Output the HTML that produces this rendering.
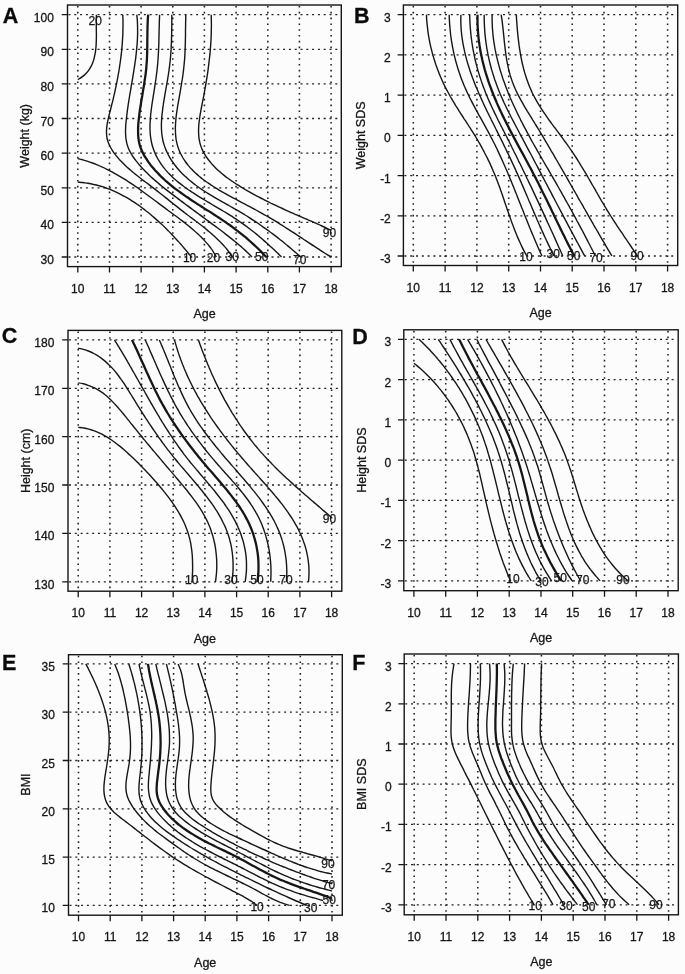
<!DOCTYPE html>
<html><head><meta charset="utf-8"><title>Figure</title>
<style>
html,body{margin:0;padding:0;background:#fcfcfc;}
svg{display:block;filter:grayscale(1);}
text{font-family:"Liberation Sans",sans-serif;fill:#161616;}
.tl{font-size:12px;stroke:#161616;stroke-width:0.3;}
.tt{font-size:12.5px;stroke:#161616;stroke-width:0.3;}
.cl{font-size:12px;stroke:#161616;stroke-width:0.25;}
.pl{font-size:21.5px;font-weight:bold;fill:#0a0a0a;stroke:#0a0a0a;stroke-width:0.3;}
.gridv{fill:none;stroke:#202020;stroke-width:1.55;stroke-dasharray:1.6 4.2;}
.gridh{fill:none;stroke:#202020;stroke-width:1.3;stroke-dasharray:2.0 3.8;}
.cv{fill:none;stroke:#161616;stroke-width:1.4;stroke-linejoin:round;}
.cvb{fill:none;stroke:#161616;stroke-width:2.3;stroke-linejoin:round;}
.fr{fill:none;stroke:#161616;stroke-width:1.4;}
.tk{fill:none;stroke:#161616;stroke-width:1.3;}
</style></head>
<body><svg width="685" height="974" viewBox="0 0 685 974">
<path class="gridv" d="M77.8 6V265.6M109.5 6V265.6M141.1 6V265.6M172.8 6V265.6M204.4 6V265.6M236.1 6V265.6M267.8 6V265.6M299.4 6V265.6M331.1 6V265.6"/>
<path class="gridh" d="M68.5 257H340.3M68.5 222.4H340.3M68.5 187.8H340.3M68.5 153.2H340.3M68.5 118.5H340.3M68.5 83.9H340.3M68.5 49.3H340.3M68.5 14.7H340.3"/>
<path class="cv" d="M96.4 14.7C96.4 15.5 96.3 17.9 96.3 19.6C96.3 21.2 96.3 22.9 96.3 24.6C96.3 26.3 96.3 28 96.3 29.8C96.4 31.5 96.4 33.3 96.4 35C96.4 36.8 96.4 38.6 96.3 40.3C96.3 42.1 96.2 43.8 96.1 45.5C96 47.3 95.8 49 95.6 50.7C95.4 52.4 95.1 54.1 94.7 55.7C94.4 57.3 94 58.9 93.5 60.5C92.9 62.1 92.4 63.6 91.7 65.1C91 66.5 90.2 67.9 89.3 69.3C88.4 70.7 87.4 72 86.2 73.2C85.1 74.4 83.8 75.6 82.4 76.6C81 77.7 78.6 79.1 77.8 79.6M77.8 182.1C78.6 182.2 81.2 182.3 82.9 182.5C84.5 182.7 86.2 183 87.9 183.2C89.5 183.5 91.1 183.8 92.8 184.2C94.4 184.5 96 184.9 97.6 185.3C99.2 185.8 100.8 186.2 102.4 186.7C103.9 187.2 105.5 187.8 107 188.3C108.6 188.9 110.1 189.5 111.7 190.1C113.2 190.8 114.7 191.5 116.2 192.2C117.7 192.9 119.2 193.6 120.6 194.3C122.1 195.1 123.6 195.9 125 196.7C126.5 197.5 127.9 198.3 129.3 199.2C130.7 200.1 132.2 201 133.6 201.9C135 202.8 136.3 203.7 137.7 204.7C139.1 205.6 140.5 206.6 141.8 207.6C143.2 208.6 144.5 209.6 145.8 210.7C147.1 211.7 148.4 212.7 149.8 213.8C151.1 214.9 152.3 216 153.6 217.1C154.9 218.2 156.2 219.3 157.4 220.4C158.7 221.5 159.9 222.7 161.1 223.8C162.4 225 163.6 226.1 164.8 227.3C166 228.5 167.2 229.7 168.4 230.9C169.5 232.1 170.7 233.3 171.9 234.5C173 235.7 174.2 236.9 175.3 238.2C176.4 239.4 177.6 240.6 178.7 241.9C179.8 243.1 180.9 244.4 182 245.6C183 246.9 184.1 248.1 185.2 249.4C186.2 250.7 187.3 251.9 188.3 253.2C189.4 254.5 190.9 256.4 191.4 257M77.8 158.6C78.6 158.8 81.2 159.4 82.8 159.8C84.5 160.3 86.1 160.8 87.8 161.3C89.4 161.8 91 162.4 92.6 163C94.2 163.5 95.7 164.2 97.3 164.8C98.9 165.5 100.4 166.2 101.9 166.9C103.5 167.6 105 168.3 106.5 169.1C108 169.8 109.5 170.6 111 171.4C112.5 172.2 113.9 173 115.4 173.8C116.9 174.6 118.3 175.5 119.8 176.3C121.2 177.2 122.6 178.1 124.1 178.9C125.5 179.8 126.9 180.7 128.3 181.7C129.7 182.6 131.1 183.5 132.5 184.4C133.9 185.4 135.3 186.3 136.7 187.3C138.1 188.3 139.5 189.3 140.8 190.2C142.2 191.2 143.6 192.2 145 193.2C146.3 194.2 147.7 195.2 149.1 196.2C150.4 197.2 151.8 198.3 153.2 199.3C154.5 200.3 155.9 201.3 157.3 202.3C158.6 203.3 160 204.4 161.4 205.4C162.7 206.4 164.1 207.4 165.5 208.4C166.9 209.4 168.2 210.5 169.6 211.5C171 212.5 172.4 213.5 173.7 214.5C175.1 215.5 176.5 216.5 177.8 217.5C179.2 218.6 180.5 219.6 181.9 220.6C183.2 221.6 184.6 222.7 185.9 223.7C187.2 224.8 188.5 225.8 189.8 226.9C191.1 228 192.4 229.1 193.7 230.2C195 231.3 196.2 232.4 197.4 233.5C198.7 234.7 199.9 235.8 201.1 237C202.2 238.2 203.4 239.4 204.5 240.6C205.7 241.9 206.8 243.1 207.9 244.4C208.9 245.7 210 247 211 248.4C212 249.7 212.9 251.1 213.8 252.6C214.7 254 215.9 256.3 216.3 257M122.8 14.7C122.8 15.5 122.9 18 123 19.7C123 21.4 123 23 123 24.7C123 26.4 123 28 122.9 29.7C122.9 31.4 122.9 33 122.8 34.7C122.7 36.3 122.6 38 122.5 39.7C122.4 41.3 122.3 43 122.2 44.6C122.1 46.3 121.9 47.9 121.8 49.6C121.6 51.3 121.4 52.9 121.2 54.6C121 56.2 120.8 57.9 120.6 59.5C120.4 61.2 120.2 62.8 119.9 64.5C119.7 66.1 119.4 67.8 119.2 69.4C118.9 71.1 118.6 72.7 118.3 74.4C118 76 117.7 77.7 117.4 79.3C117.1 81 116.8 82.6 116.4 84.3C116.1 85.9 115.8 87.6 115.4 89.2C115.1 90.9 114.7 92.5 114.3 94.2C113.9 95.8 113.5 97.5 113.2 99.1C112.8 100.8 112.4 102.4 111.9 104C111.5 105.7 111.1 107.3 110.7 109C110.3 110.6 109.8 112.3 109.4 113.9C109 115.6 108.6 117.2 108.2 118.8C107.9 120.5 107.5 122.1 107.2 123.7C107 125.3 106.8 126.9 106.6 128.5C106.5 130.1 106.5 131.7 106.5 133.3C106.6 134.9 106.7 136.4 107 138C107.3 139.5 107.8 141 108.3 142.5C108.9 144 109.5 145.5 110.3 147C111.1 148.4 111.9 149.8 112.9 151.3C113.8 152.7 114.8 154 115.9 155.4C117 156.7 118.1 158.1 119.3 159.4C120.5 160.6 121.7 161.9 122.9 163.1C124.1 164.3 125.4 165.5 126.6 166.7C127.9 167.8 129.1 168.9 130.4 170C131.6 171.1 132.9 172.2 134.2 173.2C135.4 174.3 136.7 175.3 138 176.3C139.2 177.3 140.5 178.3 141.8 179.3C143.1 180.2 144.4 181.2 145.7 182.2C147 183.2 148.3 184.1 149.6 185.1C150.9 186.1 152.2 187.1 153.5 188.1C154.8 189.1 156.1 190.1 157.4 191.1C158.7 192.1 160 193.2 161.4 194.2C162.7 195.2 164 196.3 165.3 197.4C166.7 198.4 168 199.5 169.3 200.6C170.6 201.6 172 202.7 173.3 203.8C174.6 204.8 176 205.9 177.3 206.9C178.6 208 180 209.1 181.3 210.1C182.6 211.1 184 212.2 185.3 213.2C186.6 214.2 188 215.2 189.3 216.2C190.6 217.3 192 218.3 193.3 219.3C194.6 220.3 196 221.3 197.3 222.3C198.6 223.3 199.9 224.3 201.2 225.3C202.5 226.3 203.8 227.3 205.1 228.3C206.3 229.4 207.6 230.4 208.9 231.5C210.1 232.5 211.4 233.6 212.6 234.7C213.8 235.8 215 236.9 216.2 238C217.4 239.1 218.6 240.3 219.8 241.4C220.9 242.6 222.1 243.8 223.2 245C224.3 246.3 225.4 247.5 226.5 248.8C227.5 250.1 228.6 251.4 229.6 252.8C230.6 254.2 232.1 256.3 232.6 257M136.8 14.7C136.9 15.5 137.1 18 137.3 19.6C137.4 21.3 137.5 22.9 137.5 24.6C137.6 26.3 137.6 27.9 137.6 29.6C137.6 31.2 137.6 32.9 137.6 34.6C137.5 36.2 137.5 37.9 137.4 39.6C137.3 41.2 137.2 42.9 137.1 44.6C136.9 46.2 136.8 47.9 136.6 49.6C136.5 51.2 136.3 52.9 136.1 54.6C135.9 56.2 135.7 57.9 135.5 59.6C135.2 61.3 135 62.9 134.8 64.6C134.5 66.3 134.3 68 134 69.6C133.8 71.3 133.5 73 133.2 74.6C132.9 76.3 132.7 78 132.4 79.7C132.1 81.3 131.8 83 131.5 84.7C131.2 86.3 131 88 130.7 89.7C130.4 91.4 130.1 93 129.8 94.7C129.6 96.3 129.3 98 129 99.7C128.8 101.3 128.5 103 128.2 104.7C128 106.3 127.8 108 127.5 109.6C127.3 111.3 127.1 112.9 126.9 114.6C126.7 116.2 126.5 117.9 126.3 119.5C126.1 121.2 126 122.8 125.8 124.4C125.7 126.1 125.6 127.7 125.6 129.3C125.5 130.9 125.5 132.5 125.6 134.1C125.7 135.7 125.8 137.3 126 138.9C126.3 140.5 126.5 142 126.9 143.6C127.3 145.1 127.8 146.7 128.4 148.2C129 149.7 129.8 151.2 130.6 152.6C131.4 154.1 132.3 155.5 133.2 157C134.2 158.4 135.2 159.8 136.3 161.1C137.4 162.5 138.5 163.8 139.6 165.2C140.8 166.5 142 167.7 143.1 169C144.3 170.2 145.5 171.5 146.7 172.6C147.9 173.8 149.1 175 150.3 176.2C151.5 177.3 152.8 178.4 154 179.5C155.2 180.6 156.5 181.7 157.8 182.8C159 183.9 160.3 184.9 161.6 186C162.9 187 164.1 188 165.4 189.1C166.7 190.1 168 191.1 169.4 192.1C170.7 193.1 172 194.1 173.3 195.1C174.6 196.1 176 197.1 177.3 198.1C178.6 199.1 180 200.1 181.3 201.1C182.6 202.1 184 203.1 185.3 204.1C186.7 205.1 188 206.1 189.4 207.1C190.7 208.1 192.1 209.1 193.4 210.1C194.8 211.1 196.2 212.1 197.5 213.1C198.9 214.1 200.2 215.1 201.6 216.1C202.9 217.1 204.3 218.1 205.6 219.1C207 220.1 208.3 221.1 209.7 222.1C211 223.1 212.3 224.1 213.7 225.1C215 226 216.4 227 217.7 228C219 229 220.3 230 221.7 231C223 232 224.3 233 225.6 234.1C226.9 235.1 228.2 236.1 229.5 237.1C230.8 238.1 232.1 239.2 233.4 240.2C234.7 241.3 235.9 242.3 237.2 243.4C238.5 244.4 239.7 245.5 241 246.6C242.2 247.7 243.5 248.8 244.7 249.9C246 251 247.2 252.2 248.4 253.3C249.6 254.5 251.4 256.3 252 256.9M159.6 14.7C159.6 15.6 159.5 18.2 159.4 19.9C159.3 21.6 159.3 23.3 159.3 25C159.2 26.7 159.2 28.4 159.1 30.1C159.1 31.7 159.1 33.4 159 35.1C159 36.7 158.9 38.4 158.9 40C158.9 41.7 158.8 43.3 158.8 45C158.7 46.6 158.6 48.3 158.6 49.9C158.5 51.5 158.4 53.2 158.3 54.8C158.2 56.4 158.1 58.1 158 59.7C157.9 61.3 157.8 62.9 157.6 64.6C157.5 66.2 157.3 67.8 157.1 69.4C157 71.1 156.8 72.7 156.5 74.3C156.3 75.9 156.1 77.6 155.9 79.2C155.6 80.9 155.4 82.5 155.1 84.1C154.9 85.8 154.6 87.4 154.4 89.1C154.1 90.8 153.9 92.4 153.6 94.1C153.3 95.8 153.1 97.4 152.8 99.1C152.5 100.8 152.3 102.5 152 104.2C151.8 105.9 151.5 107.6 151.3 109.3C151.1 111 150.9 112.7 150.7 114.5C150.5 116.2 150.4 117.9 150.3 119.6C150.2 121.3 150.1 123 150 124.7C150 126.4 150 128.1 150 129.8C150.1 131.4 150.2 133.1 150.3 134.7C150.5 136.4 150.7 138 151 139.7C151.2 141.3 151.6 142.9 152 144.5C152.4 146 152.9 147.6 153.4 149.1C154 150.7 154.6 152.2 155.2 153.6C155.9 155.1 156.6 156.6 157.4 158C158.1 159.4 159 160.8 159.8 162.1C160.7 163.5 161.6 164.8 162.6 166.1C163.5 167.4 164.6 168.6 165.6 169.9C166.7 171.1 167.7 172.3 168.9 173.5C170 174.7 171.2 175.8 172.3 176.9C173.5 178.1 174.8 179.2 176 180.3C177.3 181.3 178.6 182.4 179.9 183.4C181.2 184.5 182.5 185.5 183.9 186.5C185.3 187.5 186.6 188.5 188 189.5C189.4 190.4 190.9 191.4 192.3 192.3C193.7 193.3 195.2 194.2 196.6 195.1C198.1 196.1 199.5 197 201 197.9C202.5 198.8 204 199.7 205.4 200.5C206.9 201.4 208.4 202.3 209.9 203.2C211.4 204.1 212.8 204.9 214.3 205.8C215.8 206.7 217.3 207.5 218.7 208.4C220.2 209.3 221.7 210.1 223.1 211C224.5 211.8 226 212.7 227.4 213.6C228.8 214.5 230.2 215.3 231.6 216.2C233 217.1 234.3 218 235.7 218.9C237.1 219.8 238.4 220.7 239.7 221.6C241.1 222.5 242.4 223.5 243.7 224.4C245.1 225.3 246.4 226.3 247.7 227.3C249 228.2 250.3 229.2 251.5 230.2C252.8 231.2 254.1 232.2 255.4 233.2C256.6 234.3 257.9 235.3 259.2 236.4C260.4 237.5 261.7 238.5 262.9 239.6C264.2 240.7 265.4 241.8 266.7 243C267.9 244.1 269.1 245.2 270.4 246.4C271.6 247.5 272.9 248.7 274.1 249.8C275.3 251 276.6 252.2 277.8 253.3C279 254.5 280.9 256.3 281.5 256.9M171.8 14.7C171.8 15.5 171.8 18.1 171.8 19.7C171.8 21.4 171.8 23.1 171.8 24.8C171.8 26.4 171.7 28.1 171.7 29.8C171.7 31.4 171.7 33.1 171.6 34.8C171.6 36.4 171.6 38.1 171.5 39.8C171.5 41.4 171.4 43.1 171.3 44.7C171.2 46.4 171.2 48 171.1 49.7C171 51.4 170.8 53 170.7 54.7C170.6 56.3 170.4 58 170.3 59.6C170.1 61.3 169.9 62.9 169.7 64.6C169.6 66.3 169.3 67.9 169.1 69.6C168.9 71.2 168.6 72.9 168.4 74.6C168.1 76.2 167.8 77.9 167.6 79.5C167.3 81.2 167 82.9 166.7 84.5C166.4 86.2 166.1 87.9 165.8 89.6C165.5 91.2 165.2 92.9 164.9 94.6C164.7 96.3 164.4 97.9 164.1 99.6C163.8 101.3 163.5 103 163.3 104.7C163 106.4 162.8 108.1 162.6 109.8C162.4 111.4 162.2 113.1 162 114.8C161.8 116.5 161.7 118.2 161.6 119.9C161.5 121.5 161.4 123.2 161.4 124.9C161.4 126.5 161.4 128.2 161.5 129.8C161.6 131.5 161.7 133.1 161.9 134.7C162.1 136.3 162.4 137.9 162.7 139.5C163 141.1 163.4 142.7 163.9 144.2C164.3 145.8 164.9 147.3 165.5 148.8C166.1 150.3 166.8 151.8 167.5 153.3C168.2 154.7 169 156.2 169.8 157.6C170.6 159 171.5 160.4 172.5 161.7C173.4 163.1 174.4 164.4 175.4 165.7C176.4 167 177.4 168.3 178.5 169.5C179.6 170.8 180.7 172 181.9 173.2C183.1 174.3 184.3 175.5 185.5 176.6C186.7 177.8 188 178.9 189.2 180C190.5 181.1 191.8 182.1 193.2 183.2C194.5 184.2 195.9 185.2 197.2 186.2C198.6 187.2 200 188.2 201.4 189.2C202.8 190.1 204.2 191.1 205.7 192C207.1 192.9 208.6 193.8 210 194.7C211.5 195.6 213 196.4 214.4 197.3C215.9 198.2 217.4 199 218.9 199.9C220.4 200.7 221.8 201.5 223.3 202.4C224.8 203.2 226.3 204 227.8 204.9C229.2 205.7 230.7 206.5 232.2 207.4C233.6 208.2 235.1 209 236.5 209.9C238 210.7 239.4 211.5 240.8 212.4C242.3 213.3 243.7 214.1 245.1 215C246.5 215.8 247.9 216.7 249.3 217.6C250.6 218.5 252 219.4 253.4 220.3C254.8 221.2 256.1 222.1 257.5 223C258.8 223.9 260.2 224.8 261.5 225.8C262.9 226.7 264.2 227.6 265.5 228.6C266.8 229.5 268.2 230.5 269.5 231.5C270.8 232.4 272.1 233.4 273.4 234.4C274.7 235.4 276 236.4 277.4 237.4C278.7 238.4 280 239.5 281.3 240.5C282.6 241.5 283.9 242.6 285.2 243.7C286.5 244.7 287.7 245.8 289 246.9C290.3 248 291.6 249.1 292.9 250.2C294.2 251.3 295.5 252.4 296.8 253.5C298.1 254.7 300.1 256.4 300.7 257M185.8 14.7C185.8 15.6 185.7 18.1 185.7 19.8C185.7 21.5 185.6 23.2 185.6 24.9C185.6 26.6 185.6 28.3 185.5 30C185.5 31.6 185.5 33.3 185.5 35C185.5 36.6 185.4 38.3 185.4 39.9C185.4 41.6 185.3 43.2 185.3 44.9C185.2 46.5 185.2 48.2 185.1 49.8C185 51.4 185 53.1 184.9 54.7C184.8 56.3 184.7 58 184.6 59.6C184.4 61.2 184.3 62.8 184.1 64.5C184 66.1 183.8 67.7 183.6 69.4C183.4 71 183.2 72.6 183 74.3C182.8 75.9 182.5 77.5 182.3 79.2C182 80.8 181.7 82.5 181.5 84.1C181.2 85.8 180.9 87.4 180.6 89.1C180.4 90.7 180.1 92.4 179.8 94.1C179.5 95.8 179.2 97.4 178.9 99.1C178.6 100.8 178.3 102.5 178 104.2C177.7 105.9 177.4 107.6 177.2 109.3C176.9 111 176.7 112.7 176.4 114.4C176.2 116.1 176 117.8 175.9 119.5C175.7 121.2 175.6 122.9 175.5 124.6C175.4 126.3 175.3 128 175.4 129.6C175.4 131.3 175.4 132.9 175.6 134.6C175.7 136.2 175.9 137.8 176.1 139.4C176.4 141 176.7 142.6 177.1 144.2C177.5 145.7 178 147.3 178.5 148.8C179.1 150.3 179.7 151.8 180.4 153.2C181.1 154.7 181.9 156.1 182.7 157.5C183.5 158.8 184.4 160.2 185.3 161.5C186.2 162.8 187.2 164.1 188.2 165.4C189.3 166.6 190.3 167.8 191.5 169C192.6 170.2 193.7 171.4 194.9 172.5C196.1 173.6 197.4 174.7 198.6 175.8C199.9 176.9 201.2 177.9 202.5 179C203.8 180 205.2 181 206.6 182C208 183 209.4 183.9 210.8 184.9C212.2 185.8 213.7 186.7 215.1 187.6C216.6 188.5 218.1 189.4 219.5 190.3C221 191.2 222.5 192 224 192.9C225.5 193.7 227 194.6 228.5 195.4C230 196.2 231.5 197 233 197.8C234.5 198.6 236 199.4 237.5 200.2C239 201 240.5 201.8 241.9 202.6C243.4 203.3 244.9 204.1 246.3 204.9C247.8 205.7 249.3 206.4 250.7 207.2C252.2 208 253.6 208.8 255 209.5C256.5 210.3 257.9 211.1 259.3 211.9C260.8 212.7 262.2 213.5 263.6 214.3C265 215.1 266.5 215.9 267.9 216.7C269.3 217.5 270.7 218.4 272.1 219.2C273.5 220 274.9 220.9 276.3 221.7C277.7 222.6 279.1 223.5 280.5 224.4C281.9 225.2 283.3 226.1 284.7 227C286.1 227.9 287.5 228.8 288.9 229.7C290.3 230.6 291.7 231.5 293.1 232.4C294.5 233.3 295.9 234.2 297.3 235.2C298.7 236.1 300.1 237 301.5 237.9C302.8 238.8 304.2 239.8 305.6 240.7C307 241.6 308.4 242.5 309.8 243.4C311.2 244.4 312.6 245.3 314.1 246.2C315.5 247.1 316.9 248 318.3 248.9C319.7 249.8 321.1 250.8 322.5 251.7C324 252.6 325.4 253.5 326.8 254.3C328.2 255.2 330.4 256.6 331.1 257M211.2 14.7C211.2 15.5 211.3 18.1 211.3 19.8C211.4 21.5 211.4 23.1 211.4 24.8C211.4 26.5 211.4 28.2 211.3 29.8C211.3 31.5 211.3 33.2 211.2 34.8C211.2 36.5 211.1 38.2 211 39.8C210.9 41.5 210.8 43.1 210.7 44.8C210.6 46.5 210.4 48.1 210.3 49.8C210.2 51.4 210 53.1 209.9 54.7C209.7 56.4 209.5 58 209.3 59.7C209.1 61.3 208.9 63 208.7 64.6C208.5 66.3 208.3 67.9 208.1 69.6C207.9 71.2 207.6 72.9 207.4 74.5C207.1 76.2 206.9 77.9 206.6 79.5C206.3 81.2 206 82.8 205.8 84.5C205.5 86.2 205.2 87.9 204.9 89.5C204.6 91.2 204.3 92.9 204 94.6C203.7 96.2 203.3 97.9 203 99.6C202.7 101.3 202.3 103 202 104.7C201.7 106.4 201.3 108.1 201 109.8C200.7 111.5 200.4 113.2 200.1 114.9C199.8 116.6 199.6 118.3 199.4 119.9C199.1 121.6 199 123.3 198.8 124.9C198.7 126.6 198.6 128.3 198.6 129.9C198.5 131.5 198.6 133.1 198.7 134.7C198.8 136.3 198.9 137.9 199.2 139.5C199.5 141 199.8 142.6 200.2 144.1C200.7 145.6 201.2 147.1 201.8 148.6C202.4 150 203.1 151.5 203.9 152.9C204.7 154.3 205.5 155.6 206.4 157C207.4 158.4 208.3 159.7 209.4 161C210.4 162.3 211.5 163.5 212.6 164.8C213.7 166 214.9 167.2 216.1 168.4C217.3 169.6 218.6 170.7 219.9 171.8C221.1 173 222.4 174.1 223.8 175.1C225.1 176.2 226.5 177.3 227.9 178.3C229.3 179.3 230.7 180.3 232.1 181.3C233.5 182.3 235 183.2 236.4 184.2C237.9 185.1 239.4 186 240.8 186.9C242.3 187.8 243.8 188.7 245.3 189.6C246.8 190.4 248.3 191.3 249.8 192.1C251.2 192.9 252.7 193.8 254.2 194.6C255.7 195.4 257.2 196.1 258.6 196.9C260.1 197.7 261.6 198.5 263 199.2C264.5 200 265.9 200.7 267.4 201.4C268.9 202.1 270.3 202.9 271.8 203.6C273.3 204.3 274.7 205 276.2 205.7C277.7 206.4 279.2 207.1 280.6 207.7C282.1 208.4 283.6 209.1 285.1 209.8C286.6 210.5 288.1 211.1 289.7 211.8C291.2 212.5 292.7 213.1 294.2 213.8C295.8 214.5 297.3 215.1 298.9 215.8C300.4 216.4 302 217.1 303.5 217.8C305 218.5 306.6 219.1 308.1 219.8C309.7 220.5 311.2 221.1 312.8 221.8C314.3 222.5 315.9 223.2 317.4 223.9C319 224.6 320.5 225.3 322 226C323.5 226.7 325.1 227.4 326.6 228.2C328.1 228.9 330.3 230 331.1 230.4"/>
<path class="cvb" d="M148.2 14.7C148.1 15.5 147.9 18 147.8 19.6C147.7 21.3 147.7 22.9 147.6 24.6C147.5 26.2 147.5 27.9 147.5 29.5C147.4 31.2 147.4 32.8 147.4 34.5C147.4 36.2 147.4 37.9 147.3 39.5C147.3 41.2 147.3 42.9 147.3 44.6C147.3 46.3 147.3 47.9 147.2 49.6C147.2 51.3 147.2 53 147.1 54.7C147 56.4 147 58.1 146.9 59.8C146.8 61.5 146.7 63.2 146.5 64.9C146.4 66.6 146.3 68.3 146.1 70C145.9 71.7 145.7 73.4 145.5 75.1C145.2 76.8 145 78.5 144.7 80.2C144.5 81.9 144.2 83.6 144 85.3C143.7 87 143.4 88.7 143.1 90.4C142.8 92.1 142.5 93.8 142.3 95.5C142 97.1 141.7 98.8 141.4 100.5C141.1 102.2 140.9 103.9 140.6 105.6C140.3 107.3 140.1 109 139.8 110.6C139.6 112.3 139.4 114 139.2 115.7C139 117.3 138.8 119 138.6 120.7C138.5 122.3 138.3 124 138.2 125.6C138.1 127.3 138.1 128.9 138.1 130.5C138.1 132.2 138.1 133.8 138.2 135.4C138.3 137 138.5 138.6 138.7 140.2C139 141.8 139.3 143.3 139.7 144.9C140.2 146.4 140.7 148 141.3 149.5C141.9 151 142.6 152.5 143.4 153.9C144.1 155.4 145 156.8 145.9 158.2C146.8 159.6 147.8 161 148.7 162.4C149.7 163.7 150.7 165.1 151.8 166.4C152.9 167.7 153.9 168.9 155 170.2C156.2 171.4 157.3 172.7 158.5 173.9C159.6 175.1 160.8 176.2 162 177.4C163.2 178.6 164.5 179.7 165.7 180.8C167 181.9 168.3 183 169.6 184.1C170.9 185.2 172.2 186.3 173.5 187.3C174.9 188.4 176.2 189.4 177.6 190.4C179 191.4 180.3 192.4 181.7 193.4C183.1 194.4 184.5 195.4 185.9 196.4C187.3 197.3 188.8 198.3 190.2 199.2C191.6 200.2 193 201.1 194.5 202.1C195.9 203 197.4 203.9 198.8 204.9C200.2 205.8 201.7 206.7 203.1 207.6C204.6 208.6 206 209.5 207.5 210.4C208.9 211.3 210.3 212.2 211.8 213.1C213.2 214 214.6 215 216 215.9C217.4 216.8 218.9 217.7 220.3 218.6C221.7 219.6 223 220.5 224.4 221.4C225.8 222.4 227.2 223.3 228.5 224.2C229.8 225.2 231.2 226.2 232.5 227.1C233.8 228.1 235.1 229.1 236.4 230.1C237.8 231 239 232 240.3 233.1C241.6 234.1 242.9 235.1 244.1 236.2C245.4 237.2 246.7 238.3 247.9 239.3C249.2 240.4 250.4 241.5 251.6 242.6C252.9 243.7 254.1 244.9 255.3 246C256.5 247.2 257.8 248.3 259 249.5C260.2 250.7 261.4 252 262.6 253.2C263.8 254.4 265.6 256.4 266.2 257"/>
<rect class="fr" x="67.5" y="5" width="273.8" height="261.6"/>
<path class="tk" d="M77.8 266.6v6M109.5 266.6v6M141.1 266.6v6M172.8 266.6v6M204.4 266.6v6M236.1 266.6v6M267.8 266.6v6M299.4 266.6v6M331.1 266.6v6M67.5 257h-5.8M67.5 222.4h-5.8M67.5 187.8h-5.8M67.5 153.2h-5.8M67.5 118.5h-5.8M67.5 83.9h-5.8M67.5 49.3h-5.8M67.5 14.7h-5.8"/>
<text class="tl" x="77.8" y="292.6" text-anchor="middle">10</text>
<text class="tl" x="109.5" y="292.6" text-anchor="middle">11</text>
<text class="tl" x="141.1" y="292.6" text-anchor="middle">12</text>
<text class="tl" x="172.8" y="292.6" text-anchor="middle">13</text>
<text class="tl" x="204.4" y="292.6" text-anchor="middle">14</text>
<text class="tl" x="236.1" y="292.6" text-anchor="middle">15</text>
<text class="tl" x="267.8" y="292.6" text-anchor="middle">16</text>
<text class="tl" x="299.4" y="292.6" text-anchor="middle">17</text>
<text class="tl" x="331.1" y="292.6" text-anchor="middle">18</text>
<text class="tl" x="53.9" y="264" text-anchor="end">30</text>
<text class="tl" x="53.9" y="229.4" text-anchor="end">40</text>
<text class="tl" x="53.9" y="194.8" text-anchor="end">50</text>
<text class="tl" x="53.9" y="160.2" text-anchor="end">60</text>
<text class="tl" x="53.9" y="125.5" text-anchor="end">70</text>
<text class="tl" x="53.9" y="90.9" text-anchor="end">80</text>
<text class="tl" x="53.9" y="56.3" text-anchor="end">90</text>
<text class="tl" x="53.9" y="21.7" text-anchor="end">100</text>
<text class="tt" x="204.5" y="318.1" text-anchor="middle">Age</text>
<text class="tt" x="0" y="0" text-anchor="middle" transform="translate(29.2 135.8) rotate(-90)">Weight (kg)</text>
<text class="pl" x="2.8" y="22.6">A</text>
<text class="cl" x="95.3" y="24.7" text-anchor="middle">20</text>
<text class="cl" x="189.6" y="262.3" text-anchor="middle">10</text>
<text class="cl" x="213.5" y="261.8" text-anchor="middle">20</text>
<text class="cl" x="232.2" y="260.6" text-anchor="middle">30</text>
<text class="cl" x="261.8" y="261.3" text-anchor="middle">50</text>
<text class="cl" x="299.7" y="263.7" text-anchor="middle">70</text>
<text class="cl" x="329.5" y="237.1" text-anchor="middle">90</text>
<path class="gridv" d="M413.3 6V264.5M445.1 6V264.5M476.9 6V264.5M508.7 6V264.5M540.5 6V264.5M572.2 6V264.5M604 6V264.5M635.8 6V264.5M667.6 6V264.5"/>
<path class="gridh" d="M404.4 256H676.7M404.4 215.8H676.7M404.4 175.6H676.7M404.4 135.4H676.7M404.4 95.1H676.7M404.4 54.9H676.7M404.4 14.7H676.7"/>
<path class="cv" d="M426.4 14.7C426.5 15.6 426.6 18.2 426.7 19.9C426.8 21.7 427 23.4 427.2 25.1C427.4 26.8 427.6 28.6 427.8 30.3C428 32 428.2 33.6 428.5 35.3C428.8 37 429.1 38.7 429.4 40.3C429.7 42 430 43.6 430.4 45.3C430.8 46.9 431.2 48.5 431.6 50.2C432 51.8 432.4 53.4 432.8 55C433.3 56.6 433.8 58.2 434.3 59.8C434.8 61.4 435.3 63 435.8 64.5C436.4 66.1 436.9 67.7 437.5 69.2C438.1 70.8 438.7 72.3 439.3 73.9C440 75.4 440.6 77 441.3 78.5C441.9 80 442.6 81.5 443.3 83.1C444.1 84.6 444.8 86.1 445.5 87.6C446.3 89.1 447.1 90.6 447.9 92C448.7 93.5 449.5 95 450.3 96.5C451.2 98 452 99.4 452.9 100.9C453.8 102.4 454.7 103.8 455.5 105.3C456.4 106.7 457.4 108.2 458.3 109.6C459.2 111.1 460.1 112.5 461 114C462 115.4 462.9 116.8 463.8 118.3C464.8 119.7 465.7 121.2 466.7 122.6C467.6 124 468.5 125.5 469.4 126.9C470.4 128.3 471.3 129.8 472.2 131.2C473.1 132.6 474 134.1 474.9 135.5C475.7 137 476.6 138.4 477.5 139.9C478.3 141.3 479.1 142.8 480 144.2C480.8 145.7 481.6 147.1 482.4 148.6C483.2 150 484 151.5 484.7 153C485.5 154.5 486.2 155.9 487 157.4C487.7 158.9 488.4 160.4 489.2 161.9C489.9 163.4 490.6 164.9 491.2 166.4C491.9 167.9 492.6 169.5 493.2 171C493.9 172.5 494.5 174.1 495.2 175.6C495.8 177.2 496.4 178.7 497 180.3C497.6 181.9 498.2 183.5 498.8 185.1C499.4 186.6 500 188.2 500.5 189.8C501.1 191.4 501.7 193 502.2 194.6C502.8 196.3 503.3 197.9 503.9 199.5C504.4 201.1 505 202.7 505.5 204.3C506.1 205.9 506.6 207.6 507.2 209.2C507.7 210.8 508.3 212.4 508.9 214C509.4 215.6 510 217.3 510.6 218.9C511.1 220.5 511.7 222.1 512.3 223.7C512.9 225.3 513.5 226.9 514.1 228.5C514.7 230.1 515.3 231.6 516 233.2C516.6 234.8 517.2 236.4 517.9 237.9C518.6 239.5 519.3 241 520 242.5C520.7 244.1 521.4 245.6 522.1 247.1C522.8 248.6 523.6 250.1 524.4 251.6C525.2 253.1 526.4 255.3 526.8 256M449.2 14.7C449.2 15.6 449.3 18.2 449.4 20C449.5 21.7 449.6 23.5 449.7 25.2C449.9 26.9 450 28.6 450.2 30.3C450.3 32 450.5 33.7 450.7 35.4C451 37.1 451.2 38.7 451.4 40.4C451.7 42 452 43.7 452.3 45.3C452.5 46.9 452.9 48.6 453.2 50.2C453.5 51.8 453.9 53.4 454.2 55C454.6 56.6 455 58.2 455.4 59.8C455.8 61.3 456.3 62.9 456.7 64.5C457.2 66 457.6 67.6 458.1 69.2C458.6 70.7 459.1 72.2 459.7 73.8C460.2 75.3 460.7 76.9 461.3 78.4C461.9 79.9 462.5 81.4 463.1 82.9C463.7 84.5 464.3 86 465 87.5C465.6 89 466.3 90.5 467 92C467.7 93.5 468.4 95 469.1 96.5C469.8 98 470.6 99.5 471.4 100.9C472.1 102.4 472.9 103.9 473.7 105.4C474.5 106.9 475.3 108.4 476.1 109.9C476.9 111.3 477.7 112.8 478.5 114.3C479.3 115.8 480.2 117.3 481 118.7C481.8 120.2 482.6 121.7 483.5 123.2C484.3 124.7 485.1 126.1 485.9 127.6C486.7 129.1 487.6 130.6 488.4 132.1C489.2 133.6 490 135.1 490.7 136.6C491.5 138 492.3 139.5 493 141C493.8 142.5 494.6 144 495.3 145.5C496 147 496.8 148.6 497.5 150.1C498.2 151.6 498.9 153.1 499.6 154.6C500.3 156.1 501 157.6 501.7 159.1C502.4 160.7 503 162.2 503.7 163.7C504.4 165.2 505.1 166.7 505.7 168.3C506.4 169.8 507 171.3 507.7 172.8C508.3 174.4 509 175.9 509.6 177.4C510.2 179 510.9 180.5 511.5 182C512.1 183.6 512.7 185.1 513.4 186.6C514 188.2 514.6 189.7 515.2 191.2C515.8 192.8 516.5 194.3 517.1 195.9C517.7 197.4 518.3 198.9 518.9 200.5C519.5 202 520.1 203.6 520.7 205.1C521.3 206.6 522 208.2 522.6 209.7C523.2 211.3 523.8 212.8 524.4 214.4C525 215.9 525.6 217.4 526.3 219C526.9 220.5 527.5 222.1 528.1 223.6C528.7 225.2 529.4 226.7 530 228.3C530.6 229.8 531.3 231.3 531.9 232.9C532.6 234.4 533.2 236 533.9 237.5C534.5 239.1 535.2 240.6 535.8 242.1C536.5 243.7 537.2 245.2 537.8 246.8C538.5 248.3 539.2 249.9 539.9 251.4C540.6 252.9 541.6 255.2 542 256M460.9 14.7C460.9 15.5 460.8 18.1 460.8 19.8C460.8 21.5 460.9 23.2 460.9 24.8C461 26.5 461.1 28.2 461.2 29.8C461.4 31.5 461.5 33.2 461.7 34.8C461.9 36.5 462.1 38.1 462.4 39.8C462.6 41.4 462.9 43 463.2 44.7C463.5 46.3 463.8 47.9 464.2 49.5C464.5 51.2 464.9 52.8 465.3 54.4C465.7 56 466.1 57.6 466.5 59.2C467 60.8 467.4 62.4 467.9 64C468.4 65.6 468.9 67.2 469.4 68.8C469.9 70.3 470.4 71.9 471 73.5C471.5 75.1 472.1 76.6 472.7 78.2C473.3 79.8 473.9 81.3 474.5 82.9C475.1 84.5 475.7 86 476.4 87.6C477 89.1 477.7 90.7 478.4 92.2C479 93.8 479.7 95.3 480.4 96.8C481.1 98.4 481.8 99.9 482.5 101.5C483.2 103 483.9 104.5 484.6 106.1C485.4 107.6 486.1 109.1 486.8 110.6C487.6 112.2 488.3 113.7 489.1 115.2C489.8 116.7 490.6 118.3 491.3 119.8C492.1 121.3 492.8 122.8 493.6 124.3C494.3 125.8 495.1 127.3 495.8 128.8C496.6 130.4 497.3 131.9 498.1 133.4C498.8 134.9 499.6 136.4 500.3 137.9C501.1 139.4 501.8 140.9 502.6 142.4C503.3 143.9 504 145.4 504.7 146.9C505.5 148.4 506.2 149.9 506.9 151.4C507.6 152.9 508.4 154.4 509.1 155.9C509.8 157.4 510.5 158.9 511.2 160.4C511.9 161.9 512.6 163.4 513.3 164.9C514 166.4 514.7 167.9 515.4 169.4C516 170.9 516.7 172.4 517.4 173.9C518.1 175.4 518.7 176.9 519.4 178.4C520.1 179.9 520.7 181.4 521.4 182.9C522 184.4 522.7 185.9 523.3 187.4C524 188.9 524.6 190.4 525.3 192C525.9 193.5 526.6 195 527.2 196.5C527.9 198 528.5 199.5 529.1 201C529.8 202.5 530.4 204 531.1 205.5C531.7 207.1 532.3 208.6 533 210.1C533.6 211.6 534.3 213.1 534.9 214.6C535.6 216.2 536.3 217.7 536.9 219.2C537.6 220.7 538.2 222.2 538.9 223.8C539.6 225.3 540.2 226.8 540.9 228.3C541.6 229.9 542.3 231.4 543 232.9C543.7 234.5 544.4 236 545.1 237.5C545.8 239.1 546.5 240.6 547.3 242.1C548 243.7 548.7 245.2 549.5 246.7C550.2 248.3 551 249.8 551.8 251.4C552.6 252.9 553.8 255.2 554.1 256M469.7 14.7C469.7 15.6 469.8 18.1 469.8 19.8C469.9 21.5 470 23.2 470.1 24.9C470.2 26.6 470.3 28.3 470.5 30C470.6 31.6 470.8 33.3 471 35C471.1 36.6 471.3 38.3 471.6 40C471.8 41.6 472 43.3 472.3 44.9C472.5 46.5 472.8 48.2 473.1 49.8C473.4 51.4 473.7 53.1 474.1 54.7C474.4 56.3 474.7 57.9 475.1 59.5C475.5 61.1 475.9 62.7 476.3 64.3C476.7 65.9 477.1 67.5 477.6 69.1C478 70.7 478.5 72.3 479 73.9C479.4 75.5 479.9 77.1 480.5 78.6C481 80.2 481.5 81.8 482.1 83.3C482.6 84.9 483.2 86.5 483.8 88C484.4 89.6 485 91.1 485.6 92.7C486.2 94.2 486.8 95.8 487.5 97.3C488.1 98.9 488.8 100.4 489.5 101.9C490.2 103.5 490.9 105 491.6 106.5C492.3 108.1 493 109.6 493.8 111.1C494.5 112.7 495.2 114.2 496 115.7C496.7 117.2 497.5 118.7 498.2 120.3C499 121.8 499.8 123.3 500.5 124.8C501.3 126.3 502 127.8 502.8 129.3C503.6 130.8 504.3 132.3 505.1 133.8C505.9 135.3 506.6 136.8 507.4 138.3C508.2 139.8 508.9 141.3 509.7 142.8C510.4 144.3 511.2 145.8 511.9 147.3C512.7 148.8 513.4 150.3 514.1 151.8C514.9 153.3 515.6 154.8 516.4 156.3C517.1 157.8 517.8 159.3 518.5 160.8C519.3 162.3 520 163.8 520.7 165.2C521.5 166.7 522.2 168.2 522.9 169.7C523.6 171.2 524.3 172.7 525.1 174.2C525.8 175.7 526.5 177.2 527.2 178.7C527.9 180.1 528.6 181.6 529.3 183.1C530 184.6 530.8 186.1 531.5 187.6C532.2 189.1 532.9 190.6 533.6 192.1C534.3 193.6 535 195.1 535.7 196.6C536.4 198.1 537.1 199.6 537.8 201.1C538.5 202.6 539.2 204.1 539.9 205.6C540.6 207.1 541.3 208.6 542 210.1C542.7 211.6 543.4 213.1 544.1 214.6C544.8 216.1 545.4 217.6 546.1 219.1C546.8 220.7 547.5 222.2 548.2 223.7C548.9 225.2 549.6 226.7 550.3 228.2C551 229.8 551.7 231.3 552.4 232.8C553.1 234.4 553.8 235.9 554.5 237.4C555.2 239 555.8 240.5 556.5 242C557.2 243.6 557.9 245.1 558.6 246.7C559.3 248.2 560 249.8 560.7 251.3C561.4 252.9 562.5 255.2 562.8 256M484.2 14.7C484.2 15.6 484.2 18.2 484.2 19.9C484.3 21.6 484.3 23.4 484.4 25.1C484.5 26.8 484.6 28.5 484.7 30.2C484.8 31.9 484.9 33.6 485.1 35.3C485.3 37 485.5 38.6 485.7 40.3C485.9 42 486.1 43.7 486.4 45.3C486.6 47 486.9 48.7 487.2 50.3C487.5 52 487.8 53.6 488.1 55.2C488.5 56.9 488.8 58.5 489.2 60.2C489.6 61.8 490 63.4 490.4 65C490.8 66.6 491.3 68.3 491.7 69.9C492.2 71.5 492.7 73.1 493.2 74.7C493.7 76.3 494.2 77.9 494.7 79.5C495.3 81.1 495.8 82.6 496.4 84.2C497 85.8 497.6 87.4 498.2 89C498.8 90.5 499.5 92.1 500.1 93.7C500.8 95.2 501.4 96.8 502.1 98.3C502.8 99.9 503.5 101.4 504.2 103C505 104.5 505.7 106.1 506.4 107.6C507.2 109.2 507.9 110.7 508.7 112.2C509.5 113.8 510.3 115.3 511 116.8C511.8 118.4 512.6 119.9 513.4 121.4C514.2 122.9 515 124.5 515.8 126C516.6 127.5 517.4 129 518.2 130.5C519 132 519.8 133.5 520.6 135.1C521.4 136.6 522.3 138.1 523.1 139.6C523.9 141.1 524.6 142.6 525.4 144.1C526.2 145.6 527 147.1 527.8 148.6C528.6 150.1 529.4 151.6 530.2 153C531 154.5 531.8 156 532.6 157.5C533.3 159 534.1 160.5 534.9 162C535.7 163.5 536.5 165 537.3 166.4C538 167.9 538.8 169.4 539.6 170.9C540.4 172.4 541.2 173.9 541.9 175.3C542.7 176.8 543.5 178.3 544.3 179.8C545 181.3 545.8 182.8 546.6 184.2C547.4 185.7 548.1 187.2 548.9 188.7C549.7 190.2 550.5 191.6 551.3 193.1C552 194.6 552.8 196.1 553.6 197.6C554.4 199 555.1 200.5 555.9 202C556.7 203.5 557.5 205 558.3 206.5C559 207.9 559.8 209.4 560.6 210.9C561.4 212.4 562.2 213.9 563 215.4C563.8 216.9 564.5 218.4 565.3 219.9C566.1 221.3 566.9 222.8 567.7 224.3C568.5 225.8 569.3 227.3 570.1 228.8C570.9 230.3 571.7 231.8 572.5 233.3C573.3 234.8 574.1 236.3 574.9 237.8C575.7 239.3 576.5 240.8 577.3 242.3C578.1 243.9 578.9 245.4 579.8 246.9C580.6 248.4 581.4 249.9 582.2 251.4C583 253 584.3 255.2 584.7 256M492.1 14.7C492.1 15.6 492.1 18.1 492.1 19.9C492.1 21.6 492.2 23.3 492.3 25C492.3 26.7 492.4 28.4 492.6 30C492.7 31.7 492.9 33.4 493 35.1C493.2 36.7 493.4 38.4 493.6 40.1C493.9 41.7 494.1 43.4 494.4 45C494.6 46.7 494.9 48.3 495.2 49.9C495.6 51.6 495.9 53.2 496.2 54.8C496.6 56.4 497 58 497.4 59.6C497.7 61.2 498.2 62.8 498.6 64.4C499 66 499.5 67.6 499.9 69.2C500.4 70.8 500.9 72.4 501.4 73.9C501.9 75.5 502.4 77.1 502.9 78.7C503.5 80.2 504 81.8 504.6 83.3C505.1 84.9 505.7 86.4 506.3 88C506.9 89.5 507.5 91.1 508.1 92.6C508.8 94.1 509.4 95.7 510 97.2C510.7 98.7 511.3 100.2 512 101.8C512.7 103.3 513.4 104.8 514.1 106.3C514.8 107.8 515.5 109.3 516.2 110.8C516.9 112.3 517.6 113.8 518.4 115.3C519.1 116.8 519.9 118.3 520.6 119.8C521.4 121.3 522.1 122.8 522.9 124.3C523.7 125.8 524.4 127.3 525.2 128.7C526 130.2 526.8 131.7 527.6 133.2C528.4 134.6 529.2 136.1 530 137.6C530.8 139.1 531.6 140.5 532.4 142C533.3 143.5 534.1 144.9 534.9 146.4C535.7 147.8 536.6 149.3 537.4 150.8C538.2 152.2 539.1 153.7 539.9 155.1C540.7 156.6 541.6 158 542.4 159.5C543.3 161 544.1 162.4 544.9 163.9C545.8 165.3 546.6 166.8 547.5 168.2C548.3 169.7 549.1 171.1 550 172.6C550.8 174 551.7 175.5 552.5 176.9C553.3 178.4 554.2 179.8 555 181.2C555.8 182.7 556.6 184.1 557.5 185.6C558.3 187 559.1 188.5 559.9 189.9C560.8 191.4 561.6 192.8 562.4 194.3C563.2 195.7 564 197.2 564.8 198.6C565.6 200.1 566.5 201.5 567.3 203C568.1 204.4 568.9 205.9 569.7 207.3C570.5 208.8 571.3 210.2 572.1 211.7C572.9 213.2 573.7 214.6 574.5 216.1C575.3 217.5 576.1 219 576.8 220.5C577.6 221.9 578.4 223.4 579.2 224.8C580 226.3 580.8 227.8 581.6 229.3C582.3 230.7 583.1 232.2 583.9 233.7C584.7 235.1 585.4 236.6 586.2 238.1C587 239.6 587.8 241.1 588.5 242.5C589.3 244 590.1 245.5 590.8 247C591.6 248.5 592.3 250 593.1 251.5C593.9 253 595 255.3 595.4 256M501.2 14.7C501.3 15.6 501.7 18.2 502 19.9C502.2 21.7 502.4 23.4 502.6 25.1C502.8 26.9 503 28.6 503.2 30.3C503.4 32 503.5 33.7 503.7 35.4C503.9 37.1 504.1 38.8 504.2 40.5C504.4 42.2 504.6 43.9 504.8 45.6C505 47.2 505.1 48.9 505.4 50.6C505.6 52.2 505.8 53.9 506 55.5C506.3 57.2 506.5 58.8 506.8 60.4C507.1 62.1 507.4 63.7 507.8 65.3C508.1 66.9 508.4 68.5 508.8 70.1C509.2 71.7 509.7 73.3 510.1 74.9C510.6 76.4 511.1 78 511.6 79.6C512.1 81.1 512.7 82.7 513.3 84.2C513.9 85.8 514.5 87.3 515.2 88.8C515.9 90.4 516.6 91.9 517.3 93.4C518.1 94.9 518.9 96.4 519.7 97.9C520.5 99.4 521.3 100.9 522.2 102.4C523 103.9 523.9 105.4 524.7 106.8C525.6 108.3 526.5 109.8 527.4 111.3C528.3 112.7 529.2 114.2 530.1 115.7C531 117.1 531.9 118.6 532.8 120.1C533.7 121.5 534.6 123 535.5 124.5C536.4 125.9 537.3 127.4 538.2 128.9C539.1 130.3 540 131.8 540.8 133.2C541.7 134.7 542.6 136.2 543.5 137.6C544.3 139.1 545.2 140.5 546.1 142C546.9 143.5 547.8 144.9 548.6 146.4C549.5 147.8 550.4 149.3 551.2 150.8C552.1 152.2 552.9 153.7 553.8 155.1C554.6 156.6 555.5 158 556.3 159.5C557.1 160.9 558 162.4 558.8 163.9C559.7 165.3 560.5 166.8 561.3 168.2C562.2 169.7 563 171.1 563.9 172.6C564.7 174.1 565.5 175.5 566.4 177C567.2 178.4 568 179.9 568.9 181.3C569.7 182.8 570.5 184.2 571.3 185.7C572.2 187.2 573 188.6 573.8 190.1C574.7 191.5 575.5 193 576.3 194.4C577.1 195.9 578 197.4 578.8 198.8C579.6 200.3 580.5 201.7 581.3 203.2C582.1 204.6 583 206.1 583.8 207.6C584.6 209 585.5 210.5 586.3 211.9C587.1 213.4 588 214.9 588.8 216.3C589.6 217.8 590.5 219.3 591.3 220.7C592.1 222.2 593 223.6 593.8 225.1C594.7 226.6 595.5 228 596.4 229.5C597.2 231 598.1 232.4 598.9 233.9C599.8 235.4 600.6 236.8 601.5 238.3C602.3 239.8 603.2 241.3 604.1 242.7C604.9 244.2 605.8 245.7 606.6 247.1C607.5 248.6 608.4 250.1 609.3 251.6C610.1 253.1 611.5 255.3 611.9 256M516.3 14.7C516.4 15.6 516.5 18.2 516.6 19.9C516.8 21.7 516.9 23.4 517 25.2C517.1 26.9 517.3 28.6 517.4 30.3C517.6 32.1 517.8 33.8 517.9 35.5C518.1 37.2 518.3 38.9 518.5 40.6C518.7 42.3 518.9 44 519.1 45.7C519.4 47.3 519.6 49 519.9 50.7C520.2 52.3 520.4 54 520.7 55.7C521 57.3 521.4 58.9 521.7 60.6C522 62.2 522.4 63.8 522.8 65.5C523.2 67.1 523.6 68.7 524 70.3C524.5 71.9 524.9 73.5 525.4 75C525.9 76.6 526.4 78.2 527 79.7C527.5 81.3 528.1 82.8 528.7 84.4C529.3 85.9 529.9 87.5 530.6 89C531.2 90.5 531.9 92 532.6 93.5C533.4 95 534.1 96.5 534.9 97.9C535.7 99.4 536.5 100.9 537.4 102.3C538.2 103.8 539.1 105.2 540 106.6C540.9 108.1 541.8 109.5 542.8 110.9C543.7 112.3 544.7 113.8 545.7 115.2C546.6 116.6 547.6 118 548.6 119.4C549.6 120.8 550.7 122.2 551.7 123.6C552.7 124.9 553.7 126.3 554.8 127.7C555.8 129.1 556.8 130.5 557.9 131.9C558.9 133.3 559.9 134.6 561 136C562 137.4 563 138.8 564 140.2C565.1 141.6 566.1 143 567.1 144.4C568.1 145.8 569.1 147.1 570 148.6C571 150 571.9 151.4 572.9 152.8C573.8 154.2 574.8 155.6 575.7 157C576.6 158.4 577.5 159.8 578.4 161.3C579.3 162.7 580.2 164.1 581 165.6C581.9 167 582.8 168.4 583.6 169.9C584.5 171.3 585.3 172.7 586.2 174.2C587 175.6 587.9 177.1 588.7 178.5C589.5 179.9 590.4 181.4 591.2 182.8C592 184.3 592.9 185.7 593.7 187.2C594.5 188.6 595.4 190.1 596.2 191.6C597 193 597.9 194.5 598.7 195.9C599.5 197.4 600.4 198.8 601.2 200.3C602.1 201.7 602.9 203.2 603.8 204.6C604.7 206.1 605.5 207.5 606.4 209C607.3 210.4 608.2 211.9 609.1 213.3C610 214.8 610.9 216.2 611.8 217.7C612.7 219.1 613.7 220.6 614.6 222C615.5 223.4 616.5 224.9 617.4 226.3C618.4 227.8 619.4 229.2 620.3 230.6C621.3 232.1 622.2 233.5 623.2 234.9C624.2 236.3 625.1 237.8 626.1 239.2C627.1 240.6 628 242 629 243.4C629.9 244.8 630.9 246.2 631.8 247.6C632.7 249 633.7 250.4 634.6 251.8C635.5 253.2 636.8 255.3 637.3 256"/>
<path class="cvb" d="M477.5 14.7C477.5 15.6 477.5 18.2 477.5 19.9C477.5 21.6 477.5 23.3 477.6 25C477.7 26.7 477.8 28.4 477.9 30.1C478 31.8 478.1 33.5 478.3 35.2C478.4 36.9 478.6 38.5 478.8 40.2C479 41.9 479.3 43.5 479.5 45.2C479.8 46.9 480 48.5 480.3 50.2C480.6 51.8 480.9 53.4 481.3 55.1C481.6 56.7 482 58.3 482.3 60C482.7 61.6 483.1 63.2 483.5 64.8C483.9 66.4 484.4 68 484.8 69.6C485.3 71.2 485.7 72.8 486.2 74.4C486.7 76 487.2 77.6 487.7 79.2C488.2 80.8 488.8 82.3 489.3 83.9C489.9 85.5 490.5 87.1 491.1 88.6C491.6 90.2 492.2 91.8 492.9 93.3C493.5 94.9 494.1 96.4 494.8 98C495.4 99.5 496.1 101.1 496.7 102.6C497.4 104.2 498.1 105.7 498.8 107.2C499.5 108.8 500.2 110.3 500.9 111.8C501.7 113.4 502.4 114.9 503.1 116.4C503.9 117.9 504.6 119.5 505.4 121C506.1 122.5 506.9 124 507.7 125.5C508.4 127 509.2 128.6 510 130.1C510.8 131.6 511.6 133.1 512.4 134.6C513.2 136.1 514 137.6 514.8 139.1C515.6 140.6 516.4 142.1 517.2 143.6C518 145.1 518.8 146.6 519.6 148.1C520.4 149.6 521.2 151.1 522.1 152.6C522.9 154 523.7 155.5 524.5 157C525.3 158.5 526.1 160 526.9 161.5C527.7 163 528.5 164.5 529.3 166C530.1 167.4 530.9 168.9 531.7 170.4C532.5 171.9 533.2 173.4 534 174.9C534.8 176.3 535.6 177.8 536.3 179.3C537.1 180.8 537.8 182.3 538.6 183.8C539.3 185.2 540.1 186.7 540.8 188.2C541.6 189.7 542.3 191.2 543 192.7C543.8 194.2 544.5 195.6 545.2 197.1C545.9 198.6 546.7 200.1 547.4 201.6C548.1 203.1 548.8 204.6 549.6 206.1C550.3 207.6 551 209.1 551.7 210.5C552.4 212 553.2 213.5 553.9 215C554.6 216.5 555.3 218 556 219.5C556.8 221 557.5 222.5 558.2 224C559 225.5 559.7 227 560.4 228.6C561.2 230.1 561.9 231.6 562.6 233.1C563.4 234.6 564.1 236.1 564.9 237.6C565.6 239.2 566.4 240.7 567.2 242.2C567.9 243.7 568.7 245.3 569.5 246.8C570.3 248.3 571 249.8 571.8 251.4C572.6 252.9 573.9 255.2 574.3 256"/>
<rect class="fr" x="403.4" y="5" width="274.3" height="260.5"/>
<path class="tk" d="M413.3 265.5v6M445.1 265.5v6M476.9 265.5v6M508.7 265.5v6M540.5 265.5v6M572.2 265.5v6M604 265.5v6M635.8 265.5v6M667.6 265.5v6M403.4 256h-5.8M403.4 215.8h-5.8M403.4 175.6h-5.8M403.4 135.4h-5.8M403.4 95.1h-5.8M403.4 54.9h-5.8M403.4 14.7h-5.8"/>
<text class="tl" x="413.3" y="291.5" text-anchor="middle">10</text>
<text class="tl" x="445.1" y="291.5" text-anchor="middle">11</text>
<text class="tl" x="476.9" y="291.5" text-anchor="middle">12</text>
<text class="tl" x="508.7" y="291.5" text-anchor="middle">13</text>
<text class="tl" x="540.5" y="291.5" text-anchor="middle">14</text>
<text class="tl" x="572.2" y="291.5" text-anchor="middle">15</text>
<text class="tl" x="604" y="291.5" text-anchor="middle">16</text>
<text class="tl" x="635.8" y="291.5" text-anchor="middle">17</text>
<text class="tl" x="667.6" y="291.5" text-anchor="middle">18</text>
<text class="tl" x="390.8" y="263" text-anchor="end">-3</text>
<text class="tl" x="390.8" y="222.8" text-anchor="end">-2</text>
<text class="tl" x="390.8" y="182.6" text-anchor="end">-1</text>
<text class="tl" x="390.8" y="142.4" text-anchor="end">0</text>
<text class="tl" x="390.8" y="102.1" text-anchor="end">1</text>
<text class="tl" x="390.8" y="61.9" text-anchor="end">2</text>
<text class="tl" x="390.8" y="21.7" text-anchor="end">3</text>
<text class="tt" x="540.5" y="317" text-anchor="middle">Age</text>
<text class="tt" x="0" y="0" text-anchor="middle" transform="translate(365.1 135.4) rotate(-90)">Weight SDS</text>
<text class="pl" x="354.1" y="23.4">B</text>
<text class="cl" x="526" y="260.7" text-anchor="middle">10</text>
<text class="cl" x="553.2" y="258.4" text-anchor="middle">30</text>
<text class="cl" x="573.7" y="260.2" text-anchor="middle">50</text>
<text class="cl" x="596.1" y="262" text-anchor="middle">70</text>
<text class="cl" x="637.1" y="260.3" text-anchor="middle">90</text>
<path class="gridv" d="M78.2 331.4V590.2M109.9 331.4V590.2M141.6 331.4V590.2M173.2 331.4V590.2M204.9 331.4V590.2M236.6 331.4V590.2M268.2 331.4V590.2M299.9 331.4V590.2M331.6 331.4V590.2"/>
<path class="gridh" d="M69 581.8H340.8M69 533.4H340.8M69 485H340.8M69 436.7H340.8M69 388.3H340.8M69 339.9H340.8"/>
<path class="cv" d="M78.2 427.4C79 427.5 81.6 427.7 83.2 427.9C84.8 428.2 86.5 428.5 88.1 428.9C89.7 429.3 91.2 429.8 92.8 430.3C94.3 430.9 95.9 431.5 97.4 432.1C98.9 432.8 100.4 433.5 101.9 434.2C103.4 435 104.8 435.8 106.3 436.7C107.7 437.5 109.1 438.4 110.5 439.3C111.9 440.3 113.3 441.2 114.7 442.3C116 443.3 117.4 444.3 118.7 445.4C120.1 446.4 121.4 447.5 122.7 448.6C124 449.8 125.3 450.9 126.6 452C127.9 453.2 129.1 454.4 130.4 455.5C131.6 456.7 132.9 457.9 134.1 459.1C135.3 460.3 136.5 461.5 137.8 462.6C139 463.8 140.1 465 141.3 466.2C142.5 467.4 143.7 468.6 144.8 469.8C146 471.1 147.2 472.3 148.3 473.5C149.5 474.7 150.6 476 151.7 477.2C152.8 478.4 154 479.7 155.1 481C156.2 482.2 157.3 483.5 158.4 484.8C159.5 486.1 160.6 487.4 161.7 488.7C162.8 490 163.8 491.3 164.9 492.6C166 494 167 495.3 168 496.6C169.1 498 170.1 499.4 171.1 500.8C172.1 502.1 173 503.5 174 504.9C174.9 506.3 175.8 507.7 176.7 509.2C177.6 510.6 178.5 512 179.3 513.5C180.2 514.9 181 516.4 181.7 517.9C182.5 519.4 183.2 520.8 183.9 522.3C184.6 523.8 185.3 525.4 185.9 526.9C186.5 528.4 187.1 529.9 187.6 531.5C188.1 533 188.6 534.6 189 536.2C189.5 537.8 189.9 539.3 190.2 540.9C190.6 542.5 190.9 544.2 191.1 545.8C191.4 547.4 191.6 549 191.8 550.7C192 552.3 192.1 554 192.3 555.7C192.4 557.4 192.5 559.1 192.5 560.8C192.6 562.5 192.6 564.2 192.6 565.9C192.6 567.6 192.6 569.4 192.6 571.1C192.5 572.9 192.4 574.6 192.3 576.4C192.3 578.2 192.1 580.9 192 581.8M78.2 382.9C79.1 383 81.7 383.4 83.4 383.8C85.1 384.2 86.7 384.7 88.3 385.3C89.8 385.8 91.4 386.4 92.8 387.1C94.3 387.8 95.8 388.5 97.2 389.3C98.6 390.1 99.9 391 101.2 391.9C102.6 392.8 103.9 393.8 105.1 394.8C106.4 395.8 107.6 396.9 108.8 398C110 399.1 111.2 400.2 112.3 401.4C113.5 402.5 114.6 403.7 115.7 405C116.8 406.2 117.9 407.4 119 408.7C120.1 409.9 121.2 411.2 122.2 412.5C123.3 413.8 124.4 415.1 125.4 416.4C126.5 417.8 127.5 419.1 128.6 420.4C129.6 421.7 130.7 423 131.7 424.3C132.8 425.6 133.8 426.9 134.9 428.2C135.9 429.6 137 430.9 138 432.1C139.1 433.4 140.1 434.7 141.2 436C142.3 437.3 143.3 438.6 144.4 439.9C145.5 441.2 146.5 442.5 147.6 443.8C148.7 445 149.7 446.3 150.8 447.6C151.9 448.9 152.9 450.2 154 451.4C155.1 452.7 156.2 454 157.2 455.3C158.3 456.5 159.4 457.8 160.5 459.1C161.5 460.4 162.6 461.6 163.7 462.9C164.8 464.2 165.9 465.5 166.9 466.7C168 468 169.1 469.3 170.2 470.6C171.3 471.8 172.4 473.1 173.4 474.4C174.5 475.6 175.6 476.9 176.7 478.2C177.8 479.5 178.9 480.8 179.9 482C181 483.3 182.1 484.6 183.2 485.9C184.2 487.2 185.3 488.5 186.4 489.8C187.4 491.1 188.5 492.4 189.5 493.7C190.5 495 191.5 496.3 192.5 497.6C193.5 499 194.5 500.3 195.5 501.6C196.4 503 197.4 504.3 198.3 505.7C199.2 507.1 200.1 508.5 201 509.8C201.9 511.2 202.7 512.6 203.5 514.1C204.3 515.5 205.1 516.9 205.8 518.4C206.6 519.8 207.3 521.3 208 522.8C208.6 524.3 209.3 525.8 209.9 527.3C210.5 528.8 211 530.4 211.5 531.9C212.1 533.5 212.5 535.1 213 536.6C213.4 538.2 213.8 539.8 214.2 541.5C214.6 543.1 214.9 544.7 215.2 546.3C215.5 548 215.7 549.6 215.9 551.3C216.1 552.9 216.3 554.6 216.4 556.3C216.6 558 216.7 559.6 216.7 561.3C216.8 563 216.8 564.7 216.8 566.4C216.7 568.1 216.7 569.8 216.6 571.5C216.5 573.2 216.3 574.9 216.1 576.7C216 578.4 215.6 580.9 215.5 581.8M78.2 348.2C79.1 348.4 81.7 348.9 83.4 349.4C85.1 349.9 86.7 350.4 88.3 351C89.9 351.6 91.4 352.3 92.9 353C94.4 353.8 95.8 354.6 97.2 355.4C98.6 356.3 99.9 357.2 101.2 358.1C102.5 359.1 103.8 360.1 105 361.1C106.3 362.2 107.5 363.3 108.6 364.4C109.8 365.5 110.9 366.7 112 367.9C113.1 369.1 114.2 370.3 115.3 371.6C116.3 372.9 117.3 374.2 118.3 375.5C119.3 376.8 120.3 378.2 121.3 379.6C122.3 380.9 123.2 382.3 124.2 383.7C125.1 385.1 126 386.6 126.9 388C127.8 389.4 128.7 390.9 129.6 392.3C130.5 393.8 131.4 395.2 132.3 396.7C133.2 398.1 134.1 399.6 135 401C135.9 402.5 136.7 403.9 137.6 405.3C138.5 406.8 139.4 408.2 140.3 409.6C141.2 411.1 142.1 412.5 143 413.9C143.9 415.3 144.8 416.7 145.7 418.1C146.7 419.5 147.6 420.9 148.5 422.3C149.4 423.7 150.3 425.1 151.3 426.5C152.2 427.9 153.1 429.3 154.1 430.7C155 432 156 433.4 156.9 434.8C157.9 436.1 158.8 437.5 159.8 438.8C160.8 440.2 161.8 441.5 162.7 442.9C163.7 444.2 164.7 445.6 165.7 446.9C166.7 448.2 167.7 449.6 168.8 450.9C169.8 452.2 170.8 453.5 171.8 454.9C172.9 456.2 173.9 457.5 175 458.8C176 460.1 177.1 461.4 178.2 462.7C179.3 464 180.4 465.3 181.5 466.6C182.6 467.9 183.7 469.1 184.8 470.4C185.9 471.7 187 473 188.1 474.3C189.2 475.6 190.3 476.8 191.4 478.1C192.5 479.4 193.6 480.7 194.7 482C195.8 483.3 196.9 484.6 198 485.9C199 487.2 200.1 488.5 201.2 489.8C202.2 491.1 203.3 492.4 204.3 493.7C205.4 495 206.4 496.3 207.4 497.7C208.4 499 209.4 500.3 210.4 501.7C211.4 503 212.3 504.4 213.3 505.7C214.2 507.1 215.1 508.5 216 509.9C216.9 511.2 217.7 512.6 218.6 514.1C219.4 515.5 220.2 516.9 221 518.3C221.8 519.8 222.5 521.2 223.2 522.7C223.9 524.1 224.6 525.6 225.3 527.1C225.9 528.6 226.5 530.1 227.1 531.7C227.7 533.2 228.2 534.7 228.7 536.3C229.2 537.9 229.6 539.4 230 541C230.5 542.6 230.8 544.3 231.2 545.9C231.5 547.5 231.8 549.2 232 550.8C232.3 552.5 232.5 554.2 232.6 555.8C232.8 557.5 232.9 559.2 233 560.9C233.1 562.6 233.1 564.3 233.1 566.1C233.1 567.8 233.1 569.5 233 571.3C232.9 573 232.7 574.8 232.6 576.5C232.4 578.3 232 580.9 231.9 581.8M114.4 339.9C114.9 340.6 116.2 342.8 117.1 344.2C118 345.7 118.9 347.1 119.8 348.6C120.6 350 121.5 351.4 122.4 352.9C123.2 354.3 124.1 355.8 125 357.2C125.8 358.7 126.7 360.1 127.5 361.6C128.3 363 129.2 364.5 130 366C130.8 367.4 131.7 368.9 132.5 370.3C133.3 371.8 134.2 373.2 135 374.7C135.8 376.1 136.6 377.6 137.4 379C138.3 380.5 139.1 381.9 139.9 383.4C140.7 384.8 141.5 386.3 142.3 387.7C143.2 389.2 144 390.6 144.8 392C145.6 393.5 146.4 394.9 147.2 396.4C148.1 397.8 148.9 399.3 149.7 400.7C150.5 402.1 151.3 403.6 152.2 405C153 406.4 153.8 407.9 154.7 409.3C155.5 410.7 156.3 412.1 157.2 413.6C158 415 158.9 416.4 159.7 417.8C160.6 419.2 161.4 420.6 162.3 422.1C163.2 423.5 164 424.9 164.9 426.3C165.8 427.7 166.7 429.1 167.6 430.5C168.5 431.9 169.4 433.2 170.3 434.6C171.2 436 172.1 437.4 173.1 438.8C174 440.2 174.9 441.5 175.9 442.9C176.8 444.3 177.8 445.6 178.7 447C179.7 448.3 180.7 449.7 181.7 451C182.7 452.4 183.7 453.7 184.7 455.1C185.7 456.4 186.7 457.7 187.8 459.1C188.8 460.4 189.9 461.7 190.9 463C192 464.3 193.1 465.6 194.2 466.9C195.3 468.2 196.4 469.5 197.5 470.8C198.6 472.1 199.7 473.4 200.8 474.7C201.9 476 203 477.3 204.1 478.6C205.2 479.9 206.3 481.2 207.4 482.5C208.5 483.8 209.6 485.1 210.7 486.4C211.8 487.7 212.9 489 214 490.3C215 491.6 216.1 492.9 217.1 494.2C218.2 495.6 219.2 496.9 220.2 498.2C221.3 499.5 222.3 500.9 223.3 502.2C224.2 503.6 225.2 504.9 226.1 506.3C227.1 507.7 228 509 228.9 510.4C229.8 511.8 230.7 513.2 231.5 514.6C232.3 516 233.1 517.4 233.9 518.9C234.7 520.3 235.5 521.7 236.2 523.2C236.9 524.6 237.6 526.1 238.2 527.6C238.9 529.1 239.5 530.6 240.1 532.1C240.7 533.6 241.2 535.1 241.7 536.7C242.2 538.2 242.7 539.7 243.2 541.3C243.6 542.9 244 544.4 244.3 546C244.7 547.6 245 549.2 245.3 550.9C245.6 552.5 245.8 554.1 246 555.8C246.2 557.4 246.3 559.1 246.4 560.8C246.5 562.5 246.5 564.2 246.5 565.9C246.5 567.6 246.5 569.3 246.4 571.1C246.3 572.8 246.1 574.6 245.9 576.4C245.7 578.2 245.3 580.9 245.2 581.8M145.3 339.9C145.6 340.7 146.7 343.1 147.4 344.7C148.1 346.3 148.8 347.8 149.5 349.4C150.1 351 150.8 352.6 151.5 354.1C152.2 355.7 152.9 357.3 153.5 358.8C154.2 360.4 154.9 362 155.6 363.5C156.2 365.1 156.9 366.6 157.6 368.1C158.3 369.7 158.9 371.2 159.6 372.7C160.3 374.3 161 375.8 161.7 377.3C162.4 378.8 163.1 380.4 163.8 381.9C164.5 383.4 165.2 384.9 165.9 386.4C166.6 387.9 167.3 389.4 168 390.9C168.8 392.4 169.5 393.8 170.2 395.3C171 396.8 171.7 398.3 172.5 399.7C173.3 401.2 174.1 402.7 174.8 404.1C175.6 405.6 176.4 407 177.2 408.5C178.1 409.9 178.9 411.4 179.7 412.8C180.6 414.3 181.4 415.7 182.3 417.1C183.2 418.5 184.1 420 185 421.4C185.9 422.8 186.8 424.2 187.7 425.6C188.7 427 189.6 428.4 190.6 429.8C191.5 431.2 192.5 432.6 193.5 433.9C194.5 435.3 195.4 436.7 196.5 438C197.5 439.4 198.5 440.8 199.5 442.1C200.5 443.5 201.6 444.8 202.6 446.2C203.7 447.5 204.7 448.9 205.8 450.2C206.8 451.5 207.9 452.8 209 454.2C210.1 455.5 211.2 456.8 212.3 458.1C213.4 459.4 214.5 460.7 215.6 462C216.7 463.3 217.8 464.6 218.9 465.8C220.1 467.1 221.2 468.4 222.3 469.7C223.5 470.9 224.6 472.2 225.7 473.5C226.9 474.7 228 476 229.1 477.3C230.2 478.5 231.4 479.8 232.5 481.1C233.6 482.3 234.7 483.6 235.8 484.9C236.9 486.1 238 487.4 239.1 488.7C240.1 490 241.2 491.3 242.3 492.6C243.3 493.9 244.3 495.2 245.3 496.5C246.4 497.9 247.3 499.2 248.3 500.5C249.3 501.9 250.2 503.2 251.1 504.6C252.1 506 253 507.4 253.8 508.8C254.7 510.2 255.5 511.6 256.3 513.1C257.1 514.5 257.9 516 258.7 517.5C259.4 519 260.1 520.5 260.8 522C261.5 523.6 262.1 525.1 262.7 526.7C263.3 528.2 263.9 529.8 264.4 531.4C265 533 265.5 534.6 265.9 536.2C266.4 537.9 266.8 539.5 267.2 541.2C267.7 542.8 268 544.5 268.4 546.1C268.7 547.8 269 549.5 269.3 551.2C269.6 552.8 269.8 554.5 270 556.2C270.2 557.9 270.4 559.6 270.5 561.3C270.7 563 270.8 564.7 270.9 566.5C270.9 568.2 271 569.9 271 571.6C271 573.3 271 575 270.9 576.7C270.9 578.4 270.7 581 270.7 581.8M159.3 339.9C159.6 340.7 160.7 343 161.3 344.6C162 346.1 162.7 347.7 163.3 349.3C164 350.9 164.6 352.4 165.3 354C165.9 355.6 166.5 357.2 167.2 358.8C167.8 360.3 168.4 361.9 169.1 363.5C169.7 365.1 170.4 366.6 171 368.2C171.6 369.8 172.3 371.4 172.9 372.9C173.5 374.5 174.2 376.1 174.8 377.6C175.5 379.2 176.1 380.8 176.8 382.3C177.5 383.9 178.1 385.4 178.8 387C179.5 388.5 180.2 390.1 180.9 391.6C181.6 393.1 182.3 394.6 183 396.1C183.7 397.7 184.5 399.2 185.2 400.7C186 402.2 186.7 403.6 187.5 405.1C188.3 406.6 189.1 408.1 189.9 409.5C190.8 411 191.6 412.4 192.5 413.8C193.3 415.3 194.2 416.7 195.1 418.1C196 419.5 196.9 420.9 197.8 422.3C198.7 423.7 199.7 425 200.6 426.4C201.6 427.8 202.5 429.1 203.5 430.5C204.5 431.9 205.5 433.2 206.5 434.5C207.5 435.9 208.5 437.2 209.6 438.6C210.6 439.9 211.6 441.2 212.7 442.5C213.7 443.8 214.8 445.2 215.8 446.5C216.9 447.8 218 449.1 219.1 450.4C220.2 451.7 221.2 453 222.3 454.3C223.4 455.6 224.5 456.9 225.6 458.2C226.8 459.5 227.9 460.7 229 462C230.1 463.3 231.2 464.6 232.3 465.9C233.5 467.2 234.6 468.5 235.7 469.8C236.8 471.1 238 472.4 239.1 473.7C240.2 475 241.3 476.3 242.5 477.6C243.6 478.9 244.7 480.2 245.8 481.5C246.9 482.8 248 484.1 249.1 485.4C250.2 486.7 251.3 488.1 252.4 489.4C253.5 490.7 254.6 492.1 255.6 493.4C256.7 494.7 257.7 496.1 258.8 497.4C259.8 498.8 260.8 500.1 261.8 501.5C262.8 502.9 263.8 504.2 264.7 505.6C265.7 507 266.6 508.4 267.5 509.8C268.4 511.2 269.3 512.6 270.2 514C271 515.5 271.9 516.9 272.7 518.3C273.5 519.8 274.3 521.2 275 522.7C275.7 524.1 276.5 525.6 277.1 527.1C277.8 528.6 278.5 530.1 279.1 531.6C279.7 533.1 280.3 534.6 280.8 536.2C281.4 537.7 281.9 539.3 282.3 540.9C282.8 542.4 283.2 544 283.6 545.6C284 547.2 284.4 548.8 284.7 550.5C285 552.1 285.3 553.7 285.5 555.4C285.8 557.1 286 558.8 286.2 560.5C286.4 562.2 286.5 563.9 286.6 565.6C286.7 567.4 286.7 569.1 286.8 570.9C286.8 572.7 286.8 574.5 286.7 576.3C286.6 578.1 286.5 580.9 286.4 581.8M174.5 339.9C174.7 340.7 175.4 343.2 175.9 344.9C176.4 346.6 176.9 348.2 177.4 349.8C177.9 351.5 178.5 353.1 179 354.7C179.6 356.3 180.2 357.9 180.7 359.5C181.3 361.1 181.9 362.7 182.5 364.3C183.2 365.9 183.8 367.4 184.4 369C185.1 370.5 185.7 372.1 186.4 373.6C187.1 375.2 187.8 376.7 188.5 378.2C189.2 379.7 189.9 381.3 190.7 382.8C191.4 384.3 192.1 385.7 192.9 387.2C193.7 388.7 194.4 390.2 195.2 391.7C196 393.1 196.8 394.6 197.6 396.1C198.4 397.5 199.3 398.9 200.1 400.4C200.9 401.8 201.8 403.3 202.7 404.7C203.5 406.1 204.4 407.5 205.3 408.9C206.2 410.3 207.1 411.7 208 413.1C208.9 414.5 209.8 415.9 210.7 417.3C211.7 418.7 212.6 420.1 213.5 421.4C214.5 422.8 215.5 424.2 216.4 425.5C217.4 426.9 218.4 428.3 219.4 429.6C220.4 431 221.4 432.3 222.4 433.6C223.4 435 224.4 436.3 225.4 437.6C226.4 439 227.5 440.3 228.5 441.6C229.5 442.9 230.6 444.3 231.7 445.6C232.7 446.9 233.8 448.2 234.8 449.5C235.9 450.8 237 452.1 238.1 453.4C239.2 454.7 240.3 456 241.4 457.3C242.4 458.6 243.6 459.8 244.7 461.1C245.8 462.4 246.9 463.7 248 465C249.1 466.3 250.3 467.5 251.4 468.8C252.5 470.1 253.7 471.3 254.8 472.6C255.9 473.9 257.1 475.1 258.2 476.4C259.4 477.7 260.5 479 261.6 480.2C262.8 481.5 263.9 482.8 265 484C266.2 485.3 267.3 486.6 268.4 487.9C269.5 489.1 270.7 490.4 271.8 491.7C272.9 493 274 494.3 275 495.6C276.1 496.9 277.2 498.2 278.3 499.5C279.3 500.8 280.4 502.1 281.4 503.4C282.4 504.7 283.4 506 284.4 507.4C285.4 508.7 286.4 510 287.3 511.4C288.3 512.7 289.2 514.1 290.1 515.5C291.1 516.8 291.9 518.2 292.8 519.6C293.7 521 294.5 522.4 295.3 523.8C296.1 525.2 296.9 526.7 297.7 528.1C298.4 529.5 299.1 531 299.8 532.5C300.5 533.9 301.2 535.4 301.8 536.9C302.4 538.4 303 539.9 303.5 541.4C304.1 543 304.6 544.5 305.1 546.1C305.6 547.6 306 549.2 306.4 550.8C306.8 552.4 307.1 554 307.4 555.7C307.8 557.3 308 559 308.2 560.6C308.5 562.3 308.6 564 308.8 565.7C308.9 567.5 309 569.2 309 571C309 572.7 309 574.5 308.9 576.3C308.8 578.1 308.6 580.9 308.5 581.8M198.4 339.9C198.7 340.7 199.5 343.1 200.1 344.7C200.7 346.2 201.3 347.8 201.8 349.4C202.4 351 203 352.5 203.6 354.1C204.2 355.7 204.8 357.2 205.5 358.8C206.1 360.4 206.7 361.9 207.4 363.5C208 365 208.7 366.6 209.3 368.1C210 369.7 210.7 371.2 211.3 372.7C212 374.3 212.7 375.8 213.4 377.3C214.1 378.9 214.8 380.4 215.5 381.9C216.2 383.4 217 384.9 217.7 386.4C218.4 387.9 219.2 389.4 219.9 390.9C220.7 392.4 221.5 393.9 222.3 395.4C223 396.8 223.8 398.3 224.6 399.8C225.4 401.2 226.2 402.7 227.1 404.1C227.9 405.6 228.7 407 229.6 408.5C230.4 409.9 231.3 411.4 232.1 412.8C233 414.2 233.9 415.6 234.8 417C235.6 418.4 236.5 419.8 237.5 421.2C238.4 422.6 239.3 424 240.2 425.4C241.2 426.7 242.1 428.1 243.1 429.5C244 430.8 245 432.2 246 433.5C247 434.9 247.9 436.2 249 437.5C250 438.8 251 440.1 252 441.4C253 442.7 254.1 444 255.1 445.3C256.2 446.6 257.3 447.9 258.4 449.1C259.4 450.4 260.5 451.7 261.6 452.9C262.7 454.2 263.9 455.4 265 456.6C266.1 457.8 267.3 459.1 268.4 460.3C269.6 461.5 270.7 462.7 271.9 463.9C273 465.1 274.2 466.3 275.4 467.4C276.6 468.6 277.8 469.8 279 471C280.2 472.1 281.4 473.3 282.6 474.4C283.8 475.6 285.1 476.7 286.3 477.9C287.5 479 288.8 480.2 290 481.3C291.2 482.4 292.5 483.5 293.7 484.7C295 485.8 296.2 486.9 297.5 488C298.7 489.1 300 490.2 301.3 491.4C302.5 492.5 303.8 493.6 305 494.7C306.3 495.8 307.6 496.9 308.9 498C310.1 499.1 311.4 500.2 312.7 501.2C313.9 502.3 315.2 503.4 316.5 504.5C317.7 505.6 319 506.7 320.3 507.8C321.5 508.9 322.8 510 324.1 511.1C325.3 512.1 326.6 513.2 327.9 514.3C329.1 515.4 331 517 331.6 517.6"/>
<path class="cvb" d="M131.9 339.9C132.3 340.7 133.5 343 134.2 344.6C135 346.2 135.7 347.8 136.5 349.3C137.2 350.9 137.9 352.5 138.6 354C139.3 355.6 140 357.1 140.7 358.7C141.4 360.2 142.1 361.8 142.8 363.3C143.5 364.8 144.2 366.4 144.9 367.9C145.6 369.4 146.3 371 146.9 372.5C147.6 374 148.3 375.5 149 377C149.7 378.6 150.4 380.1 151.1 381.6C151.8 383.1 152.5 384.6 153.2 386.1C153.9 387.6 154.6 389.1 155.3 390.5C156.1 392 156.8 393.5 157.6 395C158.3 396.5 159.1 397.9 159.8 399.4C160.6 400.9 161.4 402.3 162.2 403.8C163 405.2 163.8 406.7 164.7 408.1C165.5 409.6 166.4 411 167.2 412.5C168.1 413.9 169 415.3 169.8 416.8C170.7 418.2 171.6 419.6 172.5 421C173.4 422.5 174.4 423.9 175.3 425.3C176.2 426.7 177.2 428.1 178.1 429.5C179.1 430.9 180.1 432.3 181 433.7C182 435 183 436.4 184 437.8C185 439.2 186 440.5 187 441.9C188 443.3 189.1 444.6 190.1 446C191.1 447.3 192.2 448.7 193.2 450C194.3 451.4 195.3 452.7 196.4 454C197.5 455.4 198.5 456.7 199.6 458C200.7 459.3 201.8 460.7 202.9 462C204 463.3 205.1 464.6 206.2 465.9C207.3 467.2 208.4 468.5 209.5 469.8C210.6 471 211.8 472.3 212.9 473.6C214 474.9 215.1 476.2 216.2 477.5C217.3 478.7 218.4 480 219.5 481.3C220.6 482.6 221.7 483.9 222.8 485.2C223.9 486.5 225 487.8 226.1 489.1C227.1 490.4 228.2 491.7 229.2 493C230.3 494.3 231.3 495.6 232.3 496.9C233.4 498.2 234.4 499.6 235.3 500.9C236.3 502.3 237.3 503.6 238.2 505C239.2 506.4 240.1 507.7 241 509.1C241.9 510.5 242.7 511.9 243.6 513.3C244.4 514.8 245.2 516.2 246 517.6C246.8 519.1 247.5 520.6 248.3 522.1C249 523.5 249.7 525.1 250.3 526.6C251 528.1 251.6 529.6 252.2 531.2C252.8 532.8 253.3 534.4 253.8 536C254.3 537.6 254.8 539.2 255.2 540.9C255.7 542.5 256.1 544.2 256.4 545.9C256.7 547.5 257 549.2 257.3 550.9C257.6 552.6 257.8 554.4 258 556.1C258.2 557.8 258.3 559.5 258.4 561.2C258.5 563 258.5 564.7 258.5 566.4C258.5 568.1 258.5 569.9 258.4 571.6C258.3 573.3 258.2 575 258 576.7C257.9 578.4 257.5 581 257.4 581.8"/>
<rect class="fr" x="68" y="330.4" width="273.8" height="260.8"/>
<path class="tk" d="M78.2 591.2v6M109.9 591.2v6M141.6 591.2v6M173.2 591.2v6M204.9 591.2v6M236.6 591.2v6M268.2 591.2v6M299.9 591.2v6M331.6 591.2v6M68 581.8h-5.8M68 533.4h-5.8M68 485h-5.8M68 436.7h-5.8M68 388.3h-5.8M68 339.9h-5.8"/>
<text class="tl" x="78.2" y="617.2" text-anchor="middle">10</text>
<text class="tl" x="109.9" y="617.2" text-anchor="middle">11</text>
<text class="tl" x="141.6" y="617.2" text-anchor="middle">12</text>
<text class="tl" x="173.2" y="617.2" text-anchor="middle">13</text>
<text class="tl" x="204.9" y="617.2" text-anchor="middle">14</text>
<text class="tl" x="236.6" y="617.2" text-anchor="middle">15</text>
<text class="tl" x="268.2" y="617.2" text-anchor="middle">16</text>
<text class="tl" x="299.9" y="617.2" text-anchor="middle">17</text>
<text class="tl" x="331.6" y="617.2" text-anchor="middle">18</text>
<text class="tl" x="54.4" y="588.8" text-anchor="end">130</text>
<text class="tl" x="54.4" y="540.4" text-anchor="end">140</text>
<text class="tl" x="54.4" y="492" text-anchor="end">150</text>
<text class="tl" x="54.4" y="443.7" text-anchor="end">160</text>
<text class="tl" x="54.4" y="395.3" text-anchor="end">170</text>
<text class="tl" x="54.4" y="346.9" text-anchor="end">180</text>
<text class="tt" x="204.9" y="642.7" text-anchor="middle">Age</text>
<text class="tt" x="0" y="0" text-anchor="middle" transform="translate(29.7 460.8) rotate(-90)">Height (cm)</text>
<text class="pl" x="1.8" y="343.4">C</text>
<text class="cl" x="191.8" y="584.1" text-anchor="middle">10</text>
<text class="cl" x="230.9" y="584.3" text-anchor="middle">30</text>
<text class="cl" x="257" y="584.3" text-anchor="middle">50</text>
<text class="cl" x="286" y="584.3" text-anchor="middle">70</text>
<text class="cl" x="329.5" y="523.1" text-anchor="middle">90</text>
<path class="gridv" d="M413.9 330.8V589.7M445.7 330.8V589.7M477.4 330.8V589.7M509.2 330.8V589.7M541 330.8V589.7M572.7 330.8V589.7M604.5 330.8V589.7M636.2 330.8V589.7M668 330.8V589.7"/>
<path class="gridh" d="M404.8 580.9H677.2M404.8 540.6H677.2M404.8 500.4H677.2M404.8 460.1H677.2M404.8 419.8H677.2M404.8 379.6H677.2M404.8 339.3H677.2"/>
<path class="cv" d="M413.9 363.2C414.6 363.7 416.5 365.3 417.8 366.4C419.1 367.5 420.4 368.7 421.7 369.8C422.9 370.9 424.2 372.1 425.4 373.3C426.6 374.4 427.8 375.6 429 376.8C430.2 378 431.4 379.3 432.5 380.5C433.6 381.7 434.8 383 435.9 384.3C437 385.5 438.1 386.8 439.1 388.1C440.2 389.4 441.3 390.7 442.3 392C443.3 393.4 444.4 394.7 445.3 396.1C446.3 397.4 447.3 398.8 448.3 400.2C449.2 401.6 450.2 403 451.1 404.4C452 405.8 452.9 407.2 453.8 408.6C454.7 410 455.5 411.5 456.4 412.9C457.2 414.4 458 415.9 458.8 417.3C459.6 418.8 460.4 420.3 461.2 421.8C462 423.3 462.7 424.8 463.4 426.3C464.1 427.8 464.9 429.3 465.5 430.9C466.2 432.4 466.9 433.9 467.5 435.5C468.2 437 468.8 438.6 469.4 440.2C470 441.7 470.6 443.3 471.2 444.9C471.8 446.4 472.3 448 472.8 449.6C473.4 451.2 473.9 452.8 474.4 454.4C474.9 456 475.3 457.6 475.8 459.3C476.3 460.9 476.7 462.5 477.2 464.1C477.6 465.7 478 467.4 478.4 469C478.9 470.6 479.3 472.3 479.7 473.9C480 475.6 480.4 477.2 480.8 478.8C481.2 480.5 481.6 482.1 482 483.8C482.3 485.4 482.7 487.1 483.1 488.8C483.4 490.4 483.8 492.1 484.2 493.7C484.6 495.4 484.9 497.1 485.3 498.7C485.7 500.4 486.1 502 486.4 503.7C486.8 505.4 487.2 507 487.6 508.7C488 510.3 488.4 512 488.8 513.7C489.2 515.3 489.6 517 490 518.6C490.4 520.3 490.9 521.9 491.3 523.6C491.7 525.2 492.2 526.9 492.6 528.5C493 530.2 493.5 531.8 493.9 533.4C494.4 535.1 494.9 536.7 495.3 538.3C495.8 540 496.3 541.6 496.8 543.2C497.3 544.8 497.8 546.5 498.3 548.1C498.8 549.7 499.3 551.3 499.8 552.9C500.4 554.5 500.9 556.1 501.5 557.7C502 559.3 502.6 560.8 503.1 562.4C503.7 564 504.3 565.5 504.9 567.1C505.5 568.7 506.1 570.2 506.7 571.7C507.3 573.3 507.9 574.8 508.6 576.3C509.2 577.9 510.2 580.1 510.5 580.9M419 339.3C419.6 339.9 421.4 341.6 422.6 342.7C423.8 343.9 425 345.1 426.1 346.2C427.3 347.4 428.4 348.6 429.6 349.8C430.7 351 431.8 352.3 433 353.5C434.1 354.7 435.2 356 436.3 357.2C437.4 358.5 438.4 359.8 439.5 361C440.6 362.3 441.6 363.6 442.7 364.9C443.7 366.2 444.7 367.6 445.7 368.9C446.8 370.2 447.8 371.6 448.7 372.9C449.7 374.3 450.7 375.6 451.7 377C452.6 378.4 453.6 379.7 454.5 381.1C455.4 382.5 456.4 383.9 457.3 385.3C458.2 386.7 459.1 388.2 460 389.6C460.8 391 461.7 392.4 462.6 393.9C463.4 395.3 464.2 396.8 465.1 398.2C465.9 399.7 466.7 401.2 467.5 402.6C468.3 404.1 469.1 405.6 469.8 407.1C470.6 408.6 471.4 410.1 472.1 411.6C472.8 413.1 473.6 414.6 474.3 416.1C475 417.6 475.7 419.2 476.3 420.7C477 422.2 477.7 423.8 478.3 425.3C479 426.9 479.6 428.4 480.2 430C480.8 431.5 481.4 433.1 482 434.6C482.6 436.2 483.2 437.8 483.7 439.3C484.3 440.9 484.8 442.5 485.3 444C485.9 445.6 486.4 447.2 486.9 448.8C487.4 450.4 487.8 452 488.3 453.6C488.8 455.2 489.2 456.8 489.7 458.3C490.1 459.9 490.6 461.5 491 463.2C491.4 464.8 491.9 466.4 492.3 468C492.7 469.6 493.1 471.2 493.5 472.8C493.9 474.4 494.3 476 494.7 477.6C495.1 479.2 495.5 480.8 495.9 482.5C496.3 484.1 496.7 485.7 497.1 487.3C497.5 488.9 497.8 490.5 498.2 492.1C498.6 493.8 499 495.4 499.4 497C499.8 498.6 500.2 500.2 500.6 501.8C501 503.4 501.4 505 501.8 506.6C502.2 508.3 502.6 509.9 503 511.5C503.4 513.1 503.9 514.7 504.3 516.3C504.7 517.9 505.2 519.5 505.6 521.1C506.1 522.7 506.5 524.3 507 525.8C507.5 527.4 507.9 529 508.4 530.6C508.9 532.2 509.4 533.8 510 535.3C510.5 536.9 511 538.5 511.6 540C512.1 541.6 512.7 543.2 513.3 544.7C513.8 546.3 514.4 547.8 515.1 549.4C515.7 550.9 516.3 552.5 517 554C517.6 555.5 518.3 557.1 519 558.6C519.7 560.1 520.4 561.6 521.2 563.1C521.9 564.6 522.7 566.1 523.5 567.6C524.3 569.1 525.1 570.6 525.9 572.1C526.8 573.6 527.6 575.1 528.5 576.5C529.4 578 530.8 580.2 531.3 580.9M438.3 339.3C438.7 340 440.1 342 441 343.4C441.9 344.7 442.8 346.1 443.7 347.5C444.6 348.9 445.5 350.2 446.4 351.6C447.3 353 448.2 354.4 449.2 355.8C450.1 357.2 451 358.6 451.9 360.1C452.8 361.5 453.7 362.9 454.6 364.3C455.5 365.8 456.4 367.2 457.3 368.6C458.1 370.1 459 371.5 459.9 373C460.8 374.4 461.7 375.9 462.6 377.4C463.4 378.8 464.3 380.3 465.2 381.8C466 383.3 466.9 384.8 467.8 386.3C468.6 387.7 469.5 389.2 470.3 390.7C471.2 392.2 472 393.8 472.8 395.3C473.6 396.8 474.5 398.3 475.3 399.8C476.1 401.3 476.9 402.9 477.7 404.4C478.5 405.9 479.3 407.5 480 409C480.8 410.5 481.6 412.1 482.3 413.6C483.1 415.2 483.8 416.7 484.6 418.3C485.3 419.8 486 421.4 486.7 423C487.4 424.5 488.1 426.1 488.8 427.7C489.5 429.2 490.2 430.8 490.8 432.4C491.5 434 492.1 435.5 492.8 437.1C493.4 438.7 494 440.3 494.6 441.9C495.2 443.5 495.8 445.1 496.4 446.7C496.9 448.3 497.5 449.9 498 451.5C498.6 453.1 499.1 454.7 499.6 456.3C500.1 457.9 500.6 459.5 501.1 461.1C501.6 462.7 502 464.3 502.5 465.9C502.9 467.5 503.4 469.2 503.8 470.8C504.3 472.4 504.7 474 505.1 475.6C505.5 477.3 505.9 478.9 506.3 480.5C506.7 482.1 507.1 483.7 507.5 485.4C507.9 487 508.3 488.6 508.7 490.2C509.1 491.9 509.5 493.5 509.9 495.1C510.2 496.8 510.6 498.4 511 500C511.4 501.6 511.8 503.3 512.2 504.9C512.6 506.5 512.9 508.1 513.3 509.8C513.7 511.4 514.1 513 514.6 514.6C515 516.3 515.4 517.9 515.8 519.5C516.2 521.1 516.7 522.7 517.1 524.4C517.6 526 518 527.6 518.5 529.2C519 530.8 519.4 532.4 519.9 534C520.4 535.6 520.9 537.2 521.5 538.8C522 540.4 522.6 542 523.1 543.6C523.7 545.2 524.3 546.8 524.9 548.4C525.5 550 526.1 551.5 526.7 553.1C527.4 554.7 528 556.3 528.7 557.8C529.4 559.4 530.1 561 530.8 562.5C531.6 564.1 532.3 565.6 533.1 567.2C533.9 568.7 534.7 570.2 535.5 571.8C536.3 573.3 537.2 574.8 538.1 576.4C539 577.9 540.4 580.1 540.8 580.9M449.9 339.3C450.3 340 451.4 342.2 452.1 343.7C452.9 345.1 453.6 346.6 454.4 348C455.2 349.5 456 351 456.8 352.4C457.5 353.9 458.4 355.4 459.2 356.8C460 358.3 460.8 359.8 461.6 361.2C462.4 362.7 463.3 364.2 464.1 365.6C464.9 367.1 465.8 368.6 466.6 370.1C467.5 371.6 468.3 373 469.2 374.5C470 376 470.9 377.5 471.7 379C472.6 380.4 473.4 381.9 474.2 383.4C475.1 384.9 475.9 386.4 476.8 387.9C477.6 389.4 478.5 390.9 479.3 392.4C480.1 393.9 481 395.4 481.8 396.9C482.6 398.4 483.4 399.9 484.2 401.4C485 402.9 485.8 404.5 486.6 406C487.4 407.5 488.2 409 489 410.5C489.7 412.1 490.5 413.6 491.2 415.1C492 416.6 492.7 418.2 493.4 419.7C494.1 421.3 494.8 422.8 495.5 424.3C496.2 425.9 496.9 427.4 497.6 429C498.2 430.5 498.9 432.1 499.5 433.6C500.1 435.2 500.8 436.8 501.4 438.3C502 439.9 502.6 441.5 503.1 443C503.7 444.6 504.3 446.2 504.9 447.8C505.4 449.4 505.9 450.9 506.5 452.5C507 454.1 507.5 455.7 508 457.3C508.5 458.9 509 460.5 509.5 462.1C510 463.7 510.5 465.3 510.9 467C511.4 468.6 511.8 470.2 512.3 471.8C512.7 473.4 513.1 475.1 513.6 476.7C514 478.3 514.4 479.9 514.8 481.6C515.3 483.2 515.7 484.8 516.1 486.5C516.5 488.1 516.9 489.7 517.3 491.4C517.7 493 518.1 494.7 518.5 496.3C518.9 497.9 519.4 499.6 519.8 501.2C520.2 502.8 520.6 504.5 521 506.1C521.4 507.7 521.8 509.4 522.3 511C522.7 512.6 523.1 514.2 523.6 515.9C524 517.5 524.5 519.1 524.9 520.7C525.4 522.4 525.9 524 526.4 525.6C526.8 527.2 527.3 528.8 527.8 530.4C528.3 532 528.9 533.6 529.4 535.2C529.9 536.8 530.5 538.4 531.1 540C531.6 541.6 532.2 543.1 532.8 544.7C533.4 546.3 534 547.9 534.7 549.4C535.3 551 536 552.5 536.7 554.1C537.3 555.6 538 557.1 538.8 558.7C539.5 560.2 540.2 561.7 541 563.2C541.8 564.7 542.6 566.2 543.4 567.7C544.3 569.2 545.1 570.7 546 572.2C546.9 573.7 547.8 575.1 548.8 576.6C549.7 578 551.2 580.2 551.7 580.9M467.6 339.3C468 340 469.3 342.1 470.1 343.6C471 345 471.8 346.4 472.6 347.9C473.5 349.3 474.3 350.7 475.1 352.2C475.9 353.6 476.8 355.1 477.6 356.6C478.4 358 479.2 359.5 480.1 361C480.9 362.4 481.7 363.9 482.5 365.4C483.3 366.9 484.1 368.4 484.9 369.9C485.7 371.4 486.5 372.8 487.3 374.4C488.1 375.9 488.9 377.4 489.7 378.9C490.5 380.4 491.3 381.9 492 383.4C492.8 384.9 493.6 386.5 494.4 388C495.1 389.5 495.9 391.1 496.6 392.6C497.4 394.1 498.2 395.7 498.9 397.2C499.7 398.7 500.4 400.3 501.1 401.8C501.9 403.4 502.6 405 503.3 406.5C504 408.1 504.7 409.6 505.5 411.2C506.2 412.8 506.9 414.3 507.6 415.9C508.3 417.5 508.9 419 509.6 420.6C510.3 422.2 511 423.8 511.6 425.3C512.3 426.9 513 428.5 513.6 430.1C514.3 431.7 514.9 433.3 515.5 434.8C516.2 436.4 516.8 438 517.4 439.6C518 441.2 518.6 442.8 519.2 444.4C519.8 446 520.4 447.6 521 449.2C521.6 450.8 522.2 452.4 522.7 454C523.3 455.6 523.8 457.2 524.4 458.8C524.9 460.4 525.4 462 526 463.6C526.5 465.2 527 466.8 527.5 468.4C528 470.1 528.5 471.7 529 473.3C529.5 474.9 530 476.5 530.5 478.1C530.9 479.7 531.4 481.3 531.9 482.9C532.4 484.5 532.8 486.1 533.3 487.7C533.8 489.3 534.2 491 534.7 492.6C535.2 494.2 535.6 495.8 536.1 497.4C536.6 499 537 500.6 537.5 502.2C538 503.8 538.5 505.4 539 507C539.4 508.6 539.9 510.2 540.4 511.7C540.9 513.3 541.4 514.9 541.9 516.5C542.4 518.1 542.9 519.7 543.5 521.3C544 522.8 544.5 524.4 545.1 526C545.6 527.6 546.2 529.2 546.7 530.7C547.3 532.3 547.9 533.9 548.5 535.4C549.1 537 549.7 538.5 550.3 540.1C551 541.7 551.6 543.2 552.3 544.7C552.9 546.3 553.6 547.8 554.3 549.4C555 550.9 555.7 552.4 556.4 554C557.2 555.5 557.9 557 558.7 558.5C559.5 560.1 560.3 561.6 561.1 563.1C561.9 564.6 562.8 566.1 563.6 567.6C564.5 569.1 565.4 570.6 566.3 572.1C567.3 573.6 568.2 575 569.2 576.5C570.2 578 571.7 580.2 572.2 580.9M476.8 339.3C477.2 340 478.3 342.2 479 343.7C479.7 345.1 480.5 346.6 481.2 348C482 349.5 482.8 351 483.5 352.4C484.3 353.9 485.1 355.4 485.9 356.8C486.6 358.3 487.4 359.8 488.2 361.3C489 362.8 489.8 364.3 490.6 365.7C491.4 367.2 492.2 368.7 493 370.2C493.8 371.7 494.6 373.2 495.4 374.7C496.2 376.2 497 377.7 497.8 379.2C498.6 380.7 499.4 382.2 500.2 383.8C501 385.3 501.8 386.8 502.6 388.3C503.4 389.8 504.2 391.3 505 392.9C505.8 394.4 506.6 395.9 507.4 397.5C508.2 399 509 400.5 509.8 402.1C510.6 403.6 511.3 405.1 512.1 406.7C512.9 408.2 513.7 409.7 514.5 411.3C515.2 412.8 516 414.4 516.8 415.9C517.5 417.5 518.3 419 519 420.6C519.8 422.1 520.5 423.7 521.2 425.3C522 426.8 522.7 428.4 523.4 429.9C524.1 431.5 524.8 433.1 525.5 434.6C526.2 436.2 526.9 437.8 527.6 439.3C528.2 440.9 528.9 442.5 529.5 444C530.2 445.6 530.8 447.2 531.4 448.8C532.1 450.3 532.7 451.9 533.2 453.5C533.8 455.1 534.4 456.7 534.9 458.2C535.5 459.8 536 461.4 536.5 463C537.1 464.6 537.6 466.2 538.1 467.7C538.5 469.3 539 470.9 539.5 472.5C539.9 474.1 540.4 475.7 540.8 477.3C541.3 478.9 541.7 480.5 542.2 482.1C542.6 483.7 543 485.3 543.5 486.9C543.9 488.5 544.3 490.1 544.8 491.6C545.2 493.2 545.6 494.8 546.1 496.4C546.5 498 547 499.6 547.4 501.2C547.9 502.9 548.4 504.5 548.9 506.1C549.3 507.7 549.8 509.3 550.3 510.9C550.8 512.5 551.3 514.1 551.9 515.7C552.4 517.3 552.9 518.9 553.4 520.5C554 522.1 554.5 523.7 555.1 525.2C555.7 526.8 556.2 528.4 556.8 530C557.4 531.6 558 533.2 558.6 534.8C559.2 536.4 559.8 538 560.5 539.5C561.1 541.1 561.7 542.7 562.4 544.3C563 545.8 563.7 547.4 564.4 549C565.1 550.5 565.8 552.1 566.5 553.6C567.2 555.2 567.9 556.7 568.6 558.3C569.4 559.8 570.1 561.3 570.9 562.9C571.6 564.4 572.4 565.9 573.2 567.4C574 569 574.8 570.5 575.6 572C576.4 573.5 577.2 575 578.1 576.5C578.9 577.9 580.2 580.2 580.7 580.9M486 339.3C486.4 340 487.6 342.2 488.4 343.6C489.3 345 490.1 346.4 490.9 347.9C491.7 349.3 492.6 350.8 493.4 352.2C494.2 353.6 495.1 355.1 495.9 356.5C496.7 358 497.6 359.4 498.4 360.9C499.2 362.3 500.1 363.8 500.9 365.2C501.8 366.7 502.6 368.2 503.5 369.6C504.3 371.1 505.1 372.6 506 374C506.8 375.5 507.7 377 508.5 378.5C509.3 379.9 510.2 381.4 511 382.9C511.8 384.4 512.7 385.9 513.5 387.4C514.3 388.9 515.2 390.4 516 391.9C516.8 393.3 517.6 394.8 518.4 396.4C519.3 397.9 520.1 399.4 520.9 400.9C521.7 402.4 522.5 403.9 523.3 405.4C524.1 406.9 524.9 408.4 525.6 410C526.4 411.5 527.2 413 528 414.5C528.7 416.1 529.5 417.6 530.3 419.1C531 420.7 531.8 422.2 532.5 423.8C533.2 425.3 534 426.8 534.7 428.4C535.4 429.9 536.1 431.5 536.8 433.1C537.5 434.6 538.2 436.2 538.9 437.7C539.5 439.3 540.2 440.9 540.9 442.4C541.5 444 542.2 445.6 542.8 447.1C543.4 448.7 544 450.3 544.7 451.9C545.3 453.5 545.8 455 546.4 456.6C547 458.2 547.6 459.8 548.1 461.4C548.7 463 549.2 464.6 549.7 466.2C550.3 467.8 550.8 469.4 551.3 471C551.8 472.6 552.3 474.2 552.8 475.8C553.2 477.4 553.7 479.1 554.2 480.7C554.7 482.3 555.1 483.9 555.6 485.5C556.1 487.1 556.5 488.7 557 490.3C557.4 491.9 557.9 493.6 558.3 495.2C558.8 496.8 559.3 498.4 559.7 500C560.2 501.6 560.7 503.2 561.1 504.8C561.6 506.4 562.1 508 562.6 509.6C563 511.2 563.5 512.8 564 514.4C564.5 515.9 565 517.5 565.6 519.1C566.1 520.7 566.6 522.3 567.2 523.8C567.7 525.4 568.3 527 568.8 528.5C569.4 530.1 570 531.6 570.6 533.2C571.2 534.7 571.9 536.3 572.5 537.8C573.2 539.3 573.8 540.8 574.5 542.4C575.2 543.9 575.9 545.4 576.7 546.9C577.4 548.4 578.2 549.9 579 551.4C579.8 552.8 580.6 554.3 581.4 555.8C582.3 557.2 583.1 558.7 584 560.1C584.9 561.6 585.9 563 586.8 564.4C587.8 565.9 588.8 567.3 589.9 568.7C590.9 570.1 592 571.4 593.1 572.8C594.2 574.2 595.3 575.6 596.5 576.9C597.7 578.2 599.6 580.2 600.2 580.9M501.6 339.3C502 340 503.1 342.2 503.8 343.6C504.5 345.1 505.3 346.5 506.1 348C506.8 349.4 507.6 350.8 508.4 352.3C509.2 353.7 510 355.1 510.8 356.6C511.6 358 512.4 359.4 513.3 360.8C514.1 362.3 514.9 363.7 515.8 365.1C516.6 366.5 517.5 368 518.3 369.4C519.2 370.8 520 372.2 520.9 373.7C521.8 375.1 522.6 376.5 523.5 378C524.4 379.4 525.2 380.8 526.1 382.2C527 383.7 527.9 385.1 528.8 386.5C529.6 388 530.5 389.4 531.4 390.9C532.3 392.3 533.2 393.7 534 395.2C534.9 396.6 535.8 398.1 536.7 399.5C537.5 401 538.4 402.4 539.3 403.9C540.1 405.3 541 406.8 541.8 408.3C542.7 409.7 543.5 411.2 544.4 412.7C545.2 414.1 546 415.6 546.9 417.1C547.7 418.6 548.5 420.1 549.3 421.6C550.1 423 550.9 424.5 551.7 426C552.5 427.6 553.3 429.1 554 430.6C554.8 432.1 555.5 433.6 556.3 435.1C557 436.6 557.7 438.2 558.4 439.7C559.2 441.2 559.9 442.8 560.5 444.3C561.2 445.8 561.9 447.4 562.6 448.9C563.2 450.5 563.9 452 564.5 453.6C565.1 455.1 565.7 456.6 566.3 458.2C566.9 459.8 567.5 461.3 568 462.9C568.6 464.4 569.1 466 569.6 467.5C570.2 469.1 570.7 470.7 571.2 472.2C571.7 473.8 572.2 475.4 572.7 476.9C573.2 478.5 573.6 480.1 574.1 481.6C574.6 483.2 575.1 484.8 575.6 486.3C576 487.9 576.5 489.5 577 491.1C577.5 492.6 578 494.2 578.4 495.8C578.9 497.3 579.4 498.9 579.9 500.5C580.5 502 581 503.6 581.5 505.2C582 506.7 582.6 508.3 583.1 509.9C583.7 511.4 584.3 513 584.8 514.5C585.4 516.1 586 517.6 586.6 519.2C587.2 520.7 587.9 522.2 588.5 523.8C589.1 525.3 589.8 526.8 590.5 528.3C591.1 529.9 591.8 531.4 592.5 532.9C593.3 534.4 594 535.9 594.7 537.3C595.5 538.8 596.2 540.3 597 541.7C597.8 543.2 598.6 544.7 599.5 546.1C600.3 547.5 601.2 548.9 602 550.4C602.9 551.8 603.8 553.2 604.7 554.5C605.7 555.9 606.6 557.3 607.6 558.6C608.6 560 609.6 561.3 610.6 562.6C611.6 563.9 612.7 565.2 613.8 566.5C614.8 567.8 615.9 569.1 617.1 570.3C618.2 571.5 619.4 572.8 620.6 574C621.8 575.2 623 576.3 624.3 577.5C625.5 578.7 627.5 580.3 628.1 580.9"/>
<path class="cvb" d="M459.1 339.3C459.5 340 460.5 342.2 461.3 343.7C462 345.1 462.7 346.6 463.5 348.1C464.2 349.5 465 351 465.8 352.5C466.5 353.9 467.3 355.4 468.1 356.9C468.8 358.4 469.6 359.8 470.4 361.3C471.2 362.8 472 364.3 472.8 365.7C473.6 367.2 474.4 368.7 475.2 370.2C476 371.7 476.8 373.2 477.6 374.7C478.4 376.1 479.3 377.6 480.1 379.1C480.9 380.6 481.7 382.1 482.5 383.6C483.3 385.1 484.2 386.6 485 388.1C485.8 389.6 486.6 391.1 487.4 392.6C488.2 394.2 489 395.7 489.8 397.2C490.6 398.7 491.4 400.2 492.2 401.7C493 403.3 493.8 404.8 494.6 406.3C495.4 407.8 496.2 409.4 496.9 410.9C497.7 412.4 498.5 414 499.2 415.5C500 417 500.7 418.6 501.5 420.1C502.2 421.6 503 423.2 503.7 424.7C504.4 426.3 505.1 427.8 505.8 429.4C506.5 431 507.2 432.5 507.9 434.1C508.6 435.6 509.3 437.2 509.9 438.8C510.6 440.3 511.2 441.9 511.8 443.5C512.5 445 513.1 446.6 513.7 448.2C514.3 449.8 514.9 451.4 515.4 453C516 454.5 516.5 456.1 517.1 457.7C517.6 459.3 518.1 460.9 518.6 462.5C519.1 464.1 519.6 465.7 520.1 467.3C520.5 468.9 521 470.6 521.4 472.2C521.9 473.8 522.3 475.4 522.7 477C523.1 478.6 523.5 480.3 523.9 481.9C524.3 483.5 524.7 485.1 525.1 486.7C525.5 488.4 525.9 490 526.3 491.6C526.7 493.2 527.1 494.9 527.5 496.5C527.8 498.1 528.2 499.7 528.6 501.3C529 503 529.4 504.6 529.8 506.2C530.2 507.8 530.6 509.4 531 511.1C531.4 512.7 531.9 514.3 532.3 515.9C532.7 517.5 533.2 519.1 533.6 520.7C534.1 522.4 534.6 524 535.1 525.6C535.6 527.2 536.1 528.8 536.6 530.4C537.1 531.9 537.7 533.5 538.2 535.1C538.8 536.7 539.4 538.3 540 539.9C540.6 541.4 541.2 543 541.9 544.6C542.5 546.2 543.2 547.7 543.9 549.3C544.6 550.8 545.4 552.4 546.1 553.9C546.8 555.5 547.6 557 548.4 558.5C549.1 560.1 549.9 561.6 550.7 563.1C551.6 564.6 552.4 566.1 553.2 567.6C554 569.1 554.9 570.6 555.8 572.1C556.6 573.6 557.5 575.1 558.4 576.5C559.2 578 560.6 580.2 561 580.9"/>
<rect class="fr" x="403.8" y="329.8" width="274.4" height="260.9"/>
<path class="tk" d="M413.9 590.7v6M445.7 590.7v6M477.4 590.7v6M509.2 590.7v6M541 590.7v6M572.7 590.7v6M604.5 590.7v6M636.2 590.7v6M668 590.7v6M403.8 580.9h-5.8M403.8 540.6h-5.8M403.8 500.4h-5.8M403.8 460.1h-5.8M403.8 419.8h-5.8M403.8 379.6h-5.8M403.8 339.3h-5.8"/>
<text class="tl" x="413.9" y="616.7" text-anchor="middle">10</text>
<text class="tl" x="445.7" y="616.7" text-anchor="middle">11</text>
<text class="tl" x="477.4" y="616.7" text-anchor="middle">12</text>
<text class="tl" x="509.2" y="616.7" text-anchor="middle">13</text>
<text class="tl" x="541" y="616.7" text-anchor="middle">14</text>
<text class="tl" x="572.7" y="616.7" text-anchor="middle">15</text>
<text class="tl" x="604.5" y="616.7" text-anchor="middle">16</text>
<text class="tl" x="636.2" y="616.7" text-anchor="middle">17</text>
<text class="tl" x="668" y="616.7" text-anchor="middle">18</text>
<text class="tl" x="391.2" y="587.9" text-anchor="end">-3</text>
<text class="tl" x="391.2" y="547.6" text-anchor="end">-2</text>
<text class="tl" x="391.2" y="507.4" text-anchor="end">-1</text>
<text class="tl" x="391.2" y="467.1" text-anchor="end">0</text>
<text class="tl" x="391.2" y="426.8" text-anchor="end">1</text>
<text class="tl" x="391.2" y="386.6" text-anchor="end">2</text>
<text class="tl" x="391.2" y="346.3" text-anchor="end">3</text>
<text class="tt" x="541" y="642.2" text-anchor="middle">Age</text>
<text class="tt" x="0" y="0" text-anchor="middle" transform="translate(365.5 460.1) rotate(-90)">Height SDS</text>
<text class="pl" x="352.2" y="343.7">D</text>
<text class="cl" x="512.9" y="583" text-anchor="middle">10</text>
<text class="cl" x="541.9" y="585.9" text-anchor="middle">30</text>
<text class="cl" x="560.3" y="582.4" text-anchor="middle">50</text>
<text class="cl" x="582.8" y="584.4" text-anchor="middle">70</text>
<text class="cl" x="623" y="583.8" text-anchor="middle">90</text>
<path class="gridv" d="M78.5 655.7V914.2M110.2 655.7V914.2M141.9 655.7V914.2M173.6 655.7V914.2M205.2 655.7V914.2M236.9 655.7V914.2M268.6 655.7V914.2M300.3 655.7V914.2M332 655.7V914.2"/>
<path class="gridh" d="M69.5 905.4H341.3M69.5 857.1H341.3M69.5 808.8H341.3M69.5 760.5H341.3M69.5 712.2H341.3M69.5 663.9H341.3"/>
<path class="cv" d="M85.8 663.9C86.2 664.6 87.3 666.8 88.1 668.2C88.8 669.7 89.5 671.2 90.3 672.7C91 674.2 91.7 675.7 92.5 677.2C93.2 678.7 93.9 680.2 94.6 681.8C95.3 683.3 96 684.9 96.6 686.4C97.3 688 97.9 689.6 98.6 691.2C99.2 692.7 99.8 694.3 100.4 695.9C101 697.5 101.5 699.1 102.1 700.7C102.6 702.3 103.2 704 103.7 705.6C104.1 707.2 104.6 708.8 105.1 710.5C105.5 712.1 105.9 713.8 106.3 715.4C106.7 717 107 718.7 107.3 720.3C107.6 722 107.9 723.6 108.1 725.3C108.4 726.9 108.6 728.6 108.7 730.2C108.9 731.9 109 733.5 109.1 735.2C109.2 736.8 109.2 738.5 109.2 740.1C109.2 741.8 109.2 743.4 109.1 745.1C109 746.7 108.9 748.4 108.8 750C108.6 751.7 108.4 753.3 108.3 755C108.1 756.7 107.8 758.3 107.6 760C107.4 761.7 107.1 763.3 106.9 765C106.6 766.7 106.3 768.4 106 770.1C105.8 771.8 105.5 773.5 105.2 775.2C104.9 776.9 104.7 778.6 104.5 780.4C104.3 782.1 104.1 783.8 104 785.4C103.9 787.1 103.9 788.8 103.9 790.5C104 792.1 104.1 793.8 104.4 795.4C104.7 796.9 105.1 798.5 105.6 800C106.1 801.5 106.8 803 107.6 804.3C108.4 805.7 109.3 807 110.3 808.3C111.4 809.5 112.5 810.7 113.7 811.9C114.9 813 116.2 814.1 117.5 815.3C118.8 816.4 120.2 817.4 121.6 818.5C122.9 819.5 124.4 820.6 125.7 821.6C127.1 822.7 128.5 823.7 129.8 824.8C131.2 825.8 132.6 826.9 133.9 827.9C135.2 829 136.6 830 137.9 831.1C139.3 832.1 140.6 833.1 141.9 834.2C143.2 835.2 144.5 836.3 145.9 837.3C147.2 838.3 148.5 839.3 149.8 840.3C151.1 841.4 152.5 842.4 153.8 843.4C155.1 844.4 156.4 845.4 157.8 846.4C159.1 847.4 160.4 848.4 161.8 849.3C163.1 850.3 164.4 851.3 165.8 852.3C167.1 853.2 168.5 854.2 169.9 855.1C171.2 856.1 172.6 857 174 857.9C175.4 858.8 176.8 859.7 178.2 860.6C179.6 861.5 181 862.4 182.5 863.3C183.9 864.2 185.3 865.1 186.8 865.9C188.2 866.8 189.7 867.7 191.2 868.5C192.6 869.4 194.1 870.2 195.6 871.1C197 871.9 198.5 872.7 200 873.5C201.5 874.4 202.9 875.2 204.4 876C205.9 876.8 207.4 877.6 208.9 878.4C210.4 879.2 211.9 880 213.4 880.8C214.9 881.6 216.4 882.4 217.8 883.1C219.3 883.9 220.8 884.7 222.3 885.5C223.8 886.3 225.3 887 226.8 887.8C228.3 888.6 229.7 889.3 231.2 890.1C232.7 890.9 234.2 891.6 235.6 892.4C237.1 893.2 238.6 893.9 240 894.7C241.5 895.5 242.9 896.2 244.3 897.1C245.8 897.9 247.2 898.7 248.6 899.6C250.1 900.4 251.5 901.3 252.9 902.3C254.3 903.3 256.3 904.9 257 905.4M114.7 663.9C115 664.7 116 667.1 116.6 668.7C117.2 670.3 117.8 671.9 118.4 673.5C118.9 675.1 119.4 676.7 119.9 678.3C120.4 679.9 120.9 681.5 121.3 683.2C121.8 684.8 122.2 686.4 122.6 688C123 689.6 123.4 691.3 123.7 692.9C124.1 694.5 124.4 696.2 124.8 697.8C125.1 699.4 125.4 701.1 125.7 702.7C126 704.4 126.3 706 126.6 707.7C126.9 709.3 127.1 711 127.4 712.6C127.7 714.3 127.9 715.9 128.2 717.6C128.4 719.3 128.6 720.9 128.8 722.6C129.1 724.3 129.3 725.9 129.4 727.6C129.6 729.3 129.8 731 129.9 732.7C130.1 734.3 130.2 736 130.3 737.7C130.4 739.4 130.4 741.1 130.5 742.8C130.5 744.5 130.5 746.1 130.5 747.8C130.5 749.5 130.4 751.2 130.3 752.9C130.2 754.6 130 756.3 129.8 758.1C129.7 759.8 129.4 761.5 129.2 763.2C128.9 764.9 128.6 766.6 128.3 768.3C128 770 127.7 771.7 127.4 773.4C127.1 775.1 126.8 776.8 126.6 778.5C126.3 780.2 126.1 781.9 126 783.5C125.9 785.2 125.9 786.8 125.9 788.4C126 790.1 126.2 791.7 126.5 793.2C126.8 794.8 127.3 796.4 127.9 797.9C128.5 799.4 129.2 801 130 802.4C130.8 803.9 131.7 805.4 132.7 806.8C133.6 808.2 134.6 809.6 135.6 810.9C136.6 812.3 137.7 813.6 138.8 814.8C139.9 816.1 141 817.4 142.2 818.6C143.3 819.8 144.5 821 145.8 822.2C147 823.4 148.2 824.5 149.5 825.7C150.8 826.8 152 827.9 153.4 829C154.7 830.1 156 831.1 157.3 832.2C158.7 833.3 160 834.3 161.4 835.3C162.7 836.4 164.1 837.4 165.5 838.4C166.8 839.4 168.2 840.4 169.6 841.4C171 842.4 172.4 843.4 173.7 844.4C175.1 845.4 176.5 846.4 177.9 847.3C179.2 848.3 180.6 849.3 182 850.3C183.4 851.2 184.7 852.2 186.1 853.1C187.5 854 188.9 855 190.3 855.9C191.7 856.8 193 857.6 194.4 858.5C195.9 859.4 197.3 860.2 198.7 861C200.1 861.9 201.5 862.7 203 863.5C204.4 864.3 205.9 865.1 207.4 865.9C208.9 866.7 210.3 867.4 211.8 868.2C213.3 869 214.9 869.7 216.4 870.5C217.9 871.2 219.4 872 221 872.7C222.5 873.5 224 874.2 225.6 875C227.1 875.7 228.7 876.4 230.2 877.2C231.7 877.9 233.3 878.7 234.8 879.4C236.4 880.2 237.9 880.9 239.5 881.6C241 882.4 242.5 883.1 244 883.9C245.6 884.6 247.1 885.4 248.6 886.2C250.1 886.9 251.6 887.7 253.1 888.5C254.6 889.3 256 890.1 257.5 890.9C259 891.7 260.4 892.5 261.8 893.3C263.3 894.1 264.7 894.9 266.2 895.7C267.6 896.5 269.1 897.2 270.6 898C272.1 898.7 273.5 899.5 275.1 900.2C276.6 900.9 278.1 901.5 279.7 902.2C281.3 902.8 282.9 903.4 284.5 903.9C286.2 904.5 288.8 905.2 289.6 905.4M128.8 663.9C129.1 664.7 129.8 667.1 130.3 668.7C130.8 670.3 131.3 672 131.8 673.6C132.2 675.2 132.7 676.8 133.1 678.5C133.5 680.1 134 681.7 134.4 683.4C134.8 685 135.2 686.6 135.5 688.3C135.9 689.9 136.3 691.5 136.6 693.2C137 694.8 137.3 696.5 137.6 698.1C137.9 699.8 138.2 701.4 138.5 703.1C138.8 704.8 139 706.4 139.3 708.1C139.5 709.7 139.8 711.4 140 713.1C140.2 714.7 140.4 716.4 140.6 718.1C140.8 719.7 140.9 721.4 141.1 723.1C141.2 724.8 141.4 726.4 141.5 728.1C141.6 729.8 141.7 731.5 141.8 733.1C141.8 734.8 141.9 736.5 142 738.2C142 739.9 142 741.6 142 743.3C142 744.9 142 746.6 142 748.3C142 750 141.9 751.7 141.9 753.4C141.8 755.1 141.7 756.8 141.6 758.5C141.5 760.2 141.4 761.9 141.2 763.6C141.1 765.3 140.9 766.9 140.7 768.6C140.6 770.3 140.4 772 140.2 773.7C140 775.4 139.7 777.1 139.6 778.8C139.4 780.5 139.2 782.2 139.1 783.9C139 785.5 138.9 787.2 138.9 788.8C138.9 790.5 139 792.1 139.1 793.7C139.3 795.3 139.6 796.9 140 798.5C140.3 800 140.9 801.6 141.5 803.1C142.1 804.6 142.9 806.1 143.7 807.5C144.5 808.9 145.4 810.4 146.4 811.7C147.4 813.1 148.4 814.4 149.5 815.7C150.6 817 151.7 818.3 152.9 819.5C154.1 820.8 155.3 822 156.6 823.1C157.8 824.3 159.1 825.4 160.4 826.5C161.7 827.6 163 828.7 164.4 829.8C165.7 830.8 167.1 831.9 168.5 832.9C169.9 833.9 171.3 834.9 172.7 835.9C174.1 836.9 175.5 837.8 176.9 838.8C178.3 839.7 179.7 840.7 181.1 841.6C182.5 842.5 184 843.5 185.4 844.4C186.8 845.3 188.2 846.2 189.6 847C191.1 847.9 192.5 848.8 193.9 849.7C195.4 850.5 196.8 851.4 198.3 852.2C199.7 853 201.1 853.9 202.6 854.7C204 855.5 205.5 856.3 206.9 857.2C208.4 858 209.9 858.8 211.3 859.6C212.8 860.4 214.2 861.1 215.7 861.9C217.2 862.7 218.6 863.5 220.1 864.3C221.6 865 223.1 865.8 224.6 866.6C226 867.4 227.5 868.1 229 868.9C230.5 869.6 232 870.4 233.5 871.2C235 871.9 236.5 872.7 238 873.4C239.5 874.2 241 874.9 242.5 875.7C244 876.4 245.5 877.2 247 877.9C248.6 878.7 250.1 879.4 251.6 880.2C253.1 880.9 254.6 881.7 256.2 882.4C257.7 883.2 259.2 883.9 260.8 884.6C262.3 885.4 263.8 886.1 265.3 886.8C266.9 887.6 268.4 888.3 270 889C271.5 889.7 273 890.5 274.6 891.2C276.1 891.9 277.6 892.6 279.2 893.3C280.7 894 282.3 894.7 283.8 895.4C285.3 896.1 286.9 896.8 288.4 897.5C290 898.2 291.5 898.8 293 899.5C294.6 900.2 296.1 900.9 297.7 901.5C299.2 902.2 300.7 902.8 302.3 903.5C303.8 904.1 306.1 905.1 306.9 905.4M139 663.9C139.2 664.7 139.6 667.1 140 668.7C140.3 670.3 140.7 672 141.1 673.6C141.5 675.2 141.9 676.8 142.3 678.5C142.7 680.1 143.1 681.7 143.6 683.3C144 685 144.4 686.6 144.8 688.2C145.3 689.9 145.7 691.5 146.1 693.2C146.5 694.8 146.9 696.5 147.3 698.1C147.7 699.7 148.1 701.4 148.4 703C148.8 704.7 149.1 706.4 149.4 708C149.7 709.7 150 711.3 150.2 713C150.4 714.6 150.6 716.3 150.8 718C151 719.6 151.1 721.3 151.3 723C151.4 724.6 151.5 726.3 151.5 728C151.6 729.6 151.6 731.3 151.7 733C151.7 734.6 151.7 736.3 151.7 738C151.6 739.7 151.6 741.3 151.5 743C151.5 744.7 151.4 746.4 151.3 748.1C151.2 749.7 151.1 751.4 151 753.1C150.9 754.8 150.7 756.5 150.6 758.1C150.5 759.8 150.3 761.5 150.2 763.2C150 764.9 149.8 766.6 149.7 768.2C149.5 769.9 149.3 771.6 149.2 773.3C149 775 148.8 776.7 148.7 778.3C148.6 780 148.5 781.7 148.4 783.3C148.4 785 148.3 786.6 148.4 788.3C148.5 789.9 148.6 791.5 148.9 793.1C149.1 794.7 149.4 796.3 149.8 797.8C150.3 799.4 150.8 800.9 151.4 802.4C152.1 803.9 152.9 805.4 153.8 806.9C154.6 808.3 155.6 809.7 156.6 811.1C157.6 812.5 158.7 813.8 159.8 815.1C160.9 816.4 162.1 817.7 163.2 818.9C164.4 820.2 165.6 821.4 166.8 822.5C168 823.7 169.2 824.8 170.5 825.9C171.7 827 173 828.1 174.2 829.1C175.5 830.2 176.8 831.2 178.1 832.2C179.5 833.2 180.8 834.2 182.2 835.1C183.5 836.1 184.9 837 186.3 838C187.6 838.9 189 839.8 190.5 840.7C191.9 841.6 193.3 842.4 194.7 843.3C196.1 844.2 197.6 845 199 845.8C200.5 846.7 202 847.5 203.4 848.3C204.9 849.1 206.4 849.9 207.9 850.7C209.4 851.5 210.9 852.3 212.4 853C213.8 853.8 215.4 854.6 216.9 855.3C218.4 856.1 219.9 856.9 221.4 857.6C222.9 858.4 224.4 859.1 225.9 859.9C227.4 860.6 228.9 861.4 230.5 862.1C232 862.9 233.5 863.7 235 864.4C236.5 865.2 238 865.9 239.5 866.7C241 867.5 242.5 868.3 244 869C245.5 869.8 247 870.6 248.5 871.4C250 872.1 251.5 872.9 253 873.7C254.5 874.4 255.9 875.2 257.4 876C258.9 876.7 260.4 877.5 261.9 878.2C263.4 879 264.9 879.7 266.4 880.4C267.9 881.2 269.4 881.9 270.9 882.6C272.4 883.3 273.9 883.9 275.4 884.6C276.9 885.3 278.4 885.9 280 886.6C281.5 887.2 283 887.8 284.5 888.4C286.1 889 287.6 889.6 289.2 890.1C290.7 890.7 292.3 891.2 293.8 891.8C295.4 892.3 297 892.8 298.5 893.4C300.1 893.9 301.7 894.4 303.3 894.9C304.9 895.4 306.5 895.8 308.1 896.3C309.7 896.8 311.4 897.3 313 897.7C314.6 898.2 316.3 898.7 318 899.1C319.6 899.6 322.2 900.3 323 900.5M155.8 663.9C156 664.7 156.6 667.2 156.9 668.9C157.3 670.5 157.7 672.2 158.1 673.8C158.5 675.5 159 677.1 159.4 678.8C159.8 680.4 160.2 682 160.6 683.7C161 685.3 161.4 687 161.8 688.6C162.2 690.2 162.6 691.9 163 693.5C163.4 695.2 163.8 696.8 164.2 698.4C164.6 700.1 164.9 701.7 165.3 703.3C165.6 705 166 706.6 166.3 708.3C166.6 709.9 166.9 711.5 167.2 713.2C167.5 714.8 167.7 716.5 168 718.1C168.2 719.8 168.4 721.4 168.6 723.1C168.8 724.8 169 726.4 169.1 728.1C169.2 729.7 169.4 731.4 169.4 733.1C169.5 734.8 169.5 736.4 169.5 738.1C169.6 739.8 169.5 741.5 169.5 743.2C169.4 744.9 169.3 746.6 169.1 748.3C169 750 168.8 751.7 168.6 753.4C168.4 755.1 168.2 756.8 168 758.5C167.7 760.2 167.5 762 167.3 763.7C167 765.4 166.8 767.1 166.6 768.8C166.4 770.6 166.2 772.3 166.1 774C165.9 775.7 165.8 777.4 165.7 779.1C165.7 780.8 165.6 782.5 165.6 784.2C165.7 785.9 165.8 787.6 165.9 789.2C166.1 790.9 166.3 792.5 166.6 794.1C166.9 795.7 167.3 797.3 167.8 798.8C168.3 800.4 168.9 801.9 169.6 803.3C170.3 804.8 171.1 806.2 172 807.5C172.9 808.9 173.8 810.2 174.9 811.5C175.9 812.7 177.1 814 178.2 815.2C179.4 816.4 180.7 817.5 181.9 818.6C183.2 819.8 184.6 820.9 185.9 821.9C187.3 823 188.7 824 190.1 825C191.5 826 192.9 827 194.3 827.9C195.7 828.9 197.2 829.8 198.6 830.7C200.1 831.6 201.5 832.5 203 833.4C204.4 834.2 205.9 835.1 207.4 835.9C208.9 836.8 210.3 837.6 211.8 838.4C213.3 839.2 214.8 840 216.3 840.8C217.8 841.6 219.3 842.3 220.8 843.1C222.3 843.9 223.8 844.6 225.3 845.4C226.8 846.2 228.3 846.9 229.8 847.7C231.3 848.5 232.8 849.2 234.3 850C235.8 850.8 237.3 851.6 238.8 852.3C240.3 853.1 241.8 853.9 243.3 854.7C244.8 855.5 246.3 856.3 247.8 857.1C249.3 857.9 250.8 858.7 252.3 859.5C253.8 860.3 255.3 861.1 256.8 861.8C258.3 862.6 259.8 863.4 261.3 864.2C262.8 865 264.3 865.8 265.8 866.5C267.3 867.3 268.8 868 270.3 868.8C271.8 869.5 273.3 870.3 274.8 871C276.3 871.7 277.8 872.4 279.4 873.1C280.9 873.8 282.4 874.5 283.9 875.2C285.5 875.8 287 876.5 288.6 877.1C290.1 877.7 291.6 878.4 293.2 879C294.8 879.6 296.3 880.2 297.9 880.7C299.4 881.3 301 881.9 302.6 882.4C304.2 883 305.8 883.5 307.4 884C309 884.6 310.6 885.1 312.2 885.6C313.8 886.1 315.4 886.6 317 887C318.7 887.5 320.3 888 322 888.4C323.6 888.9 325.3 889.3 327 889.7C328.6 890.2 331.2 890.8 332 891M166.4 663.9C166.6 664.7 167.2 667.2 167.6 668.8C168 670.5 168.4 672.1 168.8 673.8C169.2 675.4 169.6 677.1 169.9 678.7C170.3 680.3 170.7 682 171 683.6C171.4 685.3 171.7 686.9 172.1 688.5C172.4 690.2 172.7 691.8 173.1 693.4C173.4 695.1 173.7 696.7 174 698.3C174.3 700 174.7 701.6 175 703.2C175.3 704.9 175.6 706.5 175.8 708.1C176.1 709.8 176.4 711.4 176.7 713.1C177 714.7 177.2 716.3 177.5 718C177.8 719.6 178 721.3 178.2 722.9C178.5 724.6 178.7 726.2 178.8 727.9C179 729.6 179.2 731.2 179.3 732.9C179.4 734.5 179.5 736.2 179.6 737.9C179.6 739.6 179.6 741.2 179.6 742.9C179.6 744.6 179.5 746.3 179.4 748C179.3 749.7 179.1 751.4 178.9 753.1C178.7 754.8 178.5 756.5 178.3 758.2C178 759.9 177.8 761.6 177.5 763.3C177.3 765 177 766.7 176.8 768.4C176.6 770.1 176.3 771.8 176.1 773.5C175.9 775.2 175.8 776.9 175.6 778.6C175.5 780.2 175.4 781.9 175.4 783.6C175.4 785.2 175.4 786.9 175.5 788.5C175.6 790.2 175.7 791.8 176 793.4C176.2 795 176.5 796.6 176.9 798.1C177.4 799.6 177.9 801.1 178.5 802.6C179.1 804 179.9 805.4 180.7 806.8C181.6 808.1 182.5 809.4 183.6 810.7C184.6 811.9 185.8 813.2 187 814.3C188.2 815.5 189.5 816.6 190.9 817.7C192.2 818.8 193.6 819.9 195 820.9C196.4 822 197.9 823 199.3 824C200.8 824.9 202.3 825.9 203.8 826.8C205.2 827.8 206.7 828.7 208.2 829.6C209.7 830.5 211.2 831.4 212.6 832.3C214.1 833.1 215.6 834 217 834.8C218.5 835.7 220 836.5 221.4 837.3C222.9 838.1 224.3 838.9 225.8 839.7C227.3 840.5 228.7 841.3 230.2 842.1C231.6 842.9 233.1 843.6 234.6 844.4C236 845.1 237.5 845.9 238.9 846.6C240.4 847.3 241.9 848.1 243.4 848.8C244.8 849.5 246.3 850.2 247.8 851C249.3 851.7 250.7 852.4 252.2 853.1C253.7 853.8 255.2 854.5 256.7 855.2C258.2 855.9 259.8 856.6 261.3 857.2C262.8 857.9 264.3 858.6 265.8 859.3C267.4 860 268.9 860.7 270.4 861.3C272 862 273.5 862.7 275.1 863.3C276.6 864 278.2 864.6 279.7 865.3C281.3 865.9 282.9 866.6 284.4 867.2C286 867.9 287.6 868.5 289.1 869.1C290.7 869.7 292.3 870.3 293.9 870.9C295.4 871.6 297 872.2 298.6 872.7C300.2 873.3 301.8 873.9 303.4 874.5C305 875.1 306.5 875.6 308.1 876.2C309.7 876.7 311.3 877.3 312.9 877.8C314.5 878.4 316.1 878.9 317.7 879.4C319.3 879.9 320.9 880.4 322.5 880.9C324 881.4 325.6 881.9 327.2 882.4C328.8 882.8 331.2 883.5 332 883.7M178.1 663.9C178.4 664.7 179.6 667.2 180.1 668.8C180.7 670.4 181.2 672 181.6 673.7C182 675.3 182.3 676.9 182.6 678.5C182.9 680.1 183.2 681.8 183.4 683.4C183.7 685 183.9 686.6 184.2 688.2C184.4 689.9 184.7 691.5 185 693.1C185.4 694.7 185.7 696.3 186.1 698C186.4 699.6 186.8 701.2 187.2 702.8C187.6 704.5 188 706.1 188.4 707.7C188.8 709.4 189.2 711 189.6 712.6C189.9 714.3 190.3 715.9 190.7 717.6C191 719.2 191.3 720.8 191.6 722.5C191.9 724.2 192.2 725.8 192.4 727.5C192.6 729.1 192.8 730.8 192.9 732.5C193.1 734.2 193.2 735.9 193.2 737.5C193.2 739.2 193.2 740.9 193.1 742.6C193 744.3 192.9 746 192.7 747.7C192.6 749.4 192.4 751.2 192.2 752.9C192 754.6 191.8 756.3 191.5 758C191.3 759.7 191 761.4 190.8 763.1C190.5 764.8 190.3 766.5 190.1 768.2C189.8 769.9 189.6 771.6 189.4 773.3C189.2 775 189.1 776.7 188.9 778.3C188.8 780 188.7 781.7 188.7 783.3C188.6 785 188.6 786.6 188.7 788.2C188.8 789.9 188.9 791.5 189.1 793.1C189.3 794.7 189.6 796.3 189.9 797.8C190.3 799.4 190.7 800.9 191.3 802.4C191.8 803.9 192.5 805.3 193.2 806.7C194 808.1 194.9 809.5 195.9 810.8C196.9 812.1 198.1 813.3 199.3 814.5C200.5 815.7 201.9 816.9 203.3 818C204.6 819.1 206.1 820.1 207.5 821.1C208.9 822.1 210.3 823.1 211.8 824C213.2 824.9 214.6 825.8 216.1 826.7C217.6 827.5 219.1 828.4 220.5 829.2C222 830 223.5 830.7 225 831.5C226.5 832.3 228 833 229.5 833.8C231 834.5 232.5 835.2 234 835.9C235.5 836.6 237 837.3 238.5 838C240.1 838.7 241.6 839.4 243.1 840.1C244.6 840.8 246.1 841.5 247.6 842.2C249.1 842.9 250.6 843.6 252.1 844.3C253.6 845 255.2 845.7 256.7 846.4C258.2 847.1 259.7 847.8 261.2 848.5C262.7 849.2 264.3 849.8 265.8 850.5C267.3 851.2 268.8 851.9 270.4 852.6C271.9 853.3 273.4 853.9 274.9 854.6C276.5 855.3 278 856 279.6 856.6C281.1 857.3 282.6 858 284.2 858.6C285.7 859.3 287.3 859.9 288.8 860.6C290.4 861.2 292 861.8 293.5 862.5C295.1 863.1 296.7 863.7 298.2 864.3C299.8 864.9 301.4 865.5 303 866C304.5 866.6 306.1 867.1 307.7 867.7C309.3 868.2 310.9 868.7 312.5 869.2C314.1 869.7 315.7 870.2 317.3 870.6C318.9 871.1 320.6 871.5 322.2 871.9C323.8 872.3 325.4 872.7 327.1 873C328.7 873.4 331.2 873.8 332 874M198.1 663.9C198.4 664.7 199.1 667.1 199.6 668.7C200.1 670.3 200.7 672 201.2 673.6C201.7 675.2 202.2 676.8 202.8 678.4C203.3 680 203.8 681.7 204.3 683.3C204.8 684.9 205.3 686.5 205.9 688.2C206.4 689.8 206.9 691.4 207.3 693C207.8 694.7 208.3 696.3 208.8 697.9C209.2 699.6 209.7 701.2 210.1 702.9C210.5 704.5 210.9 706.1 211.3 707.8C211.7 709.4 212 711.1 212.4 712.7C212.7 714.4 213 716.1 213.3 717.7C213.6 719.4 213.9 721.1 214.1 722.7C214.3 724.4 214.5 726.1 214.7 727.8C214.8 729.5 214.9 731.1 215 732.8C215.1 734.5 215.1 736.2 215.1 737.9C215.1 739.6 215.1 741.4 215 743.1C215 744.8 214.9 746.5 214.7 748.2C214.6 749.9 214.5 751.7 214.3 753.4C214.1 755.1 213.9 756.8 213.7 758.6C213.6 760.3 213.3 762 213.1 763.7C212.9 765.4 212.7 767.1 212.5 768.9C212.3 770.6 212.1 772.3 211.9 774C211.7 775.7 211.5 777.4 211.4 779C211.2 780.7 211.1 782.4 211 784.1C210.9 785.7 210.7 787.4 210.8 789C210.8 790.7 210.8 792.3 211.1 793.9C211.3 795.4 211.7 797 212.3 798.5C212.9 800 213.8 801.4 214.8 802.8C215.8 804.2 217 805.5 218.2 806.8C219.5 808.1 220.8 809.3 222.1 810.4C223.4 811.6 224.7 812.7 226 813.8C227.3 814.8 228.7 815.9 230 816.9C231.4 817.8 232.7 818.8 234.1 819.7C235.5 820.6 236.9 821.5 238.3 822.4C239.7 823.3 241.1 824.2 242.5 825C244 825.9 245.4 826.7 246.9 827.6C248.3 828.4 249.8 829.2 251.3 830.1C252.7 830.9 254.2 831.8 255.7 832.6C257.2 833.5 258.7 834.3 260.2 835.2C261.7 836 263.3 836.8 264.8 837.6C266.3 838.5 267.9 839.3 269.4 840C270.9 840.8 272.5 841.6 274.1 842.3C275.6 843 277.2 843.7 278.8 844.4C280.3 845 281.9 845.7 283.5 846.3C285.1 846.9 286.6 847.4 288.2 848C289.8 848.5 291.4 849 293 849.5C294.6 850 296.2 850.5 297.8 851C299.5 851.4 301.1 851.9 302.7 852.3C304.3 852.8 305.9 853.2 307.5 853.7C309.2 854.1 310.8 854.5 312.4 855C314 855.4 315.7 855.9 317.3 856.3C318.9 856.8 320.6 857.3 322.2 857.8C323.8 858.3 325.5 858.8 327.1 859.3C328.7 859.9 331.2 860.7 332 861"/>
<path class="cvb" d="M148 663.9C148.1 664.7 148.5 667.2 148.8 668.8C149 670.5 149.3 672.1 149.7 673.8C150 675.4 150.3 677.1 150.7 678.7C151 680.3 151.4 682 151.7 683.6C152.1 685.2 152.5 686.9 152.9 688.5C153.3 690.1 153.6 691.8 154 693.4C154.4 695 154.8 696.7 155.1 698.3C155.5 699.9 155.9 701.6 156.2 703.2C156.6 704.8 156.9 706.5 157.2 708.1C157.5 709.7 157.8 711.4 158.1 713C158.4 714.6 158.6 716.3 158.9 717.9C159.1 719.6 159.3 721.2 159.5 722.8C159.7 724.5 159.8 726.1 160 727.8C160.1 729.4 160.2 731.1 160.3 732.7C160.4 734.4 160.5 736 160.5 737.7C160.5 739.4 160.6 741 160.6 742.7C160.6 744.3 160.5 746 160.5 747.7C160.4 749.4 160.3 751 160.3 752.7C160.2 754.4 160 756.1 159.9 757.8C159.7 759.5 159.6 761.2 159.4 762.9C159.2 764.6 159 766.3 158.8 768C158.5 769.7 158.3 771.4 158.1 773.1C157.9 774.8 157.7 776.5 157.5 778.2C157.3 779.8 157.1 781.5 156.9 783.2C156.8 784.9 156.7 786.5 156.6 788.2C156.6 789.8 156.7 791.4 156.8 793C157 794.6 157.4 796.2 157.8 797.8C158.3 799.3 158.9 800.9 159.6 802.4C160.3 803.8 161.1 805.3 162 806.7C162.9 808.1 163.9 809.5 164.9 810.8C166 812.2 167.1 813.4 168.2 814.7C169.3 815.9 170.5 817.1 171.6 818.3C172.8 819.4 174 820.6 175.3 821.7C176.5 822.8 177.8 823.8 179.1 824.9C180.4 825.9 181.7 826.9 183 827.9C184.3 828.8 185.7 829.8 187.1 830.7C188.4 831.6 189.8 832.5 191.3 833.4C192.7 834.3 194.1 835.2 195.5 836C197 836.8 198.4 837.7 199.9 838.5C201.4 839.3 202.8 840.1 204.3 840.9C205.8 841.6 207.3 842.4 208.8 843.2C210.3 843.9 211.8 844.7 213.3 845.4C214.9 846.2 216.4 846.9 217.9 847.7C219.4 848.4 220.9 849.1 222.5 849.9C224 850.6 225.5 851.3 227 852.1C228.5 852.8 230 853.5 231.6 854.3C233.1 855 234.6 855.8 236.1 856.6C237.5 857.3 239 858.1 240.5 858.9C242 859.7 243.4 860.5 244.9 861.3C246.4 862.1 247.8 862.9 249.3 863.7C250.7 864.5 252.2 865.3 253.6 866.1C255.1 866.9 256.5 867.7 258 868.5C259.4 869.3 260.9 870.1 262.3 870.8C263.8 871.6 265.3 872.4 266.7 873.1C268.2 873.9 269.7 874.6 271.1 875.4C272.6 876.1 274.1 876.8 275.6 877.5C277.1 878.2 278.6 878.9 280.1 879.6C281.7 880.2 283.2 880.9 284.8 881.5C286.3 882.1 287.9 882.7 289.4 883.3C291 883.9 292.6 884.5 294.1 885.1C295.7 885.7 297.3 886.3 298.9 886.8C300.5 887.4 302.1 887.9 303.7 888.5C305.3 889 306.9 889.6 308.5 890.1C310.1 890.7 311.7 891.2 313.3 891.8C314.8 892.3 316.4 892.9 318 893.4C319.6 894 321.2 894.5 322.7 895.1C324.3 895.7 325.8 896.2 327.4 896.8C328.9 897.4 331.2 898.3 332 898.6"/>
<rect class="fr" x="68.5" y="654.7" width="273.8" height="260.5"/>
<path class="tk" d="M78.5 915.2v6M110.2 915.2v6M141.9 915.2v6M173.6 915.2v6M205.2 915.2v6M236.9 915.2v6M268.6 915.2v6M300.3 915.2v6M332 915.2v6M68.5 905.4h-5.8M68.5 857.1h-5.8M68.5 808.8h-5.8M68.5 760.5h-5.8M68.5 712.2h-5.8M68.5 663.9h-5.8"/>
<text class="tl" x="78.5" y="941.2" text-anchor="middle">10</text>
<text class="tl" x="110.2" y="941.2" text-anchor="middle">11</text>
<text class="tl" x="141.9" y="941.2" text-anchor="middle">12</text>
<text class="tl" x="173.6" y="941.2" text-anchor="middle">13</text>
<text class="tl" x="205.2" y="941.2" text-anchor="middle">14</text>
<text class="tl" x="236.9" y="941.2" text-anchor="middle">15</text>
<text class="tl" x="268.6" y="941.2" text-anchor="middle">16</text>
<text class="tl" x="300.3" y="941.2" text-anchor="middle">17</text>
<text class="tl" x="332" y="941.2" text-anchor="middle">18</text>
<text class="tl" x="54.9" y="912.4" text-anchor="end">10</text>
<text class="tl" x="54.9" y="864.1" text-anchor="end">15</text>
<text class="tl" x="54.9" y="815.8" text-anchor="end">20</text>
<text class="tl" x="54.9" y="767.5" text-anchor="end">25</text>
<text class="tl" x="54.9" y="719.2" text-anchor="end">30</text>
<text class="tl" x="54.9" y="670.9" text-anchor="end">35</text>
<text class="tt" x="205.2" y="966.7" text-anchor="middle">Age</text>
<text class="tt" x="0" y="0" text-anchor="middle" transform="translate(30.2 784.6) rotate(-90)">BMI</text>
<text class="pl" x="1.9" y="670.2">E</text>
<text class="cl" x="257.1" y="911.2" text-anchor="middle">10</text>
<text class="cl" x="310.8" y="911.5" text-anchor="middle">30</text>
<text class="cl" x="329.2" y="903.7" text-anchor="middle">50</text>
<text class="cl" x="328.6" y="888.8" text-anchor="middle">70</text>
<text class="cl" x="327.9" y="867.6" text-anchor="middle">90</text>
<path class="gridv" d="M414.2 655V913.8M446 655V913.8M477.8 655V913.8M509.6 655V913.8M541.4 655V913.8M573.2 655V913.8M605 655V913.8M636.8 655V913.8M668.6 655V913.8"/>
<path class="gridh" d="M405.2 904.8H677.4M405.2 864.6H677.4M405.2 824.4H677.4M405.2 784.2H677.4M405.2 744H677.4M405.2 703.8H677.4M405.2 663.6H677.4"/>
<path class="cv" d="M454.1 663.6C453.9 664.4 453.4 667 453.2 668.7C452.9 670.4 452.7 672.1 452.5 673.7C452.3 675.4 452.1 677.1 452 678.8C451.8 680.5 451.7 682.2 451.6 683.9C451.5 685.6 451.5 687.3 451.4 688.9C451.4 690.6 451.3 692.3 451.3 694C451.3 695.7 451.3 697.3 451.3 699C451.3 700.7 451.3 702.4 451.3 704C451.3 705.7 451.3 707.4 451.3 709C451.3 710.7 451.3 712.4 451.3 714C451.3 715.7 451.3 717.3 451.2 719C451.2 720.6 451.1 722.3 451.1 723.9C451.1 725.5 451 727.2 451 728.8C451 730.4 451 732 451 733.7C451.1 735.3 451.2 736.9 451.4 738.5C451.6 740.1 451.8 741.7 452.2 743.3C452.5 744.9 453 746.4 453.5 748C454 749.6 454.6 751.2 455.3 752.7C455.9 754.3 456.6 755.9 457.4 757.4C458.1 759 458.9 760.5 459.7 762.1C460.4 763.6 461.2 765.1 462 766.7C462.8 768.2 463.6 769.8 464.3 771.3C465.1 772.8 465.9 774.3 466.6 775.9C467.4 777.4 468.2 778.9 469 780.4C469.7 781.9 470.5 783.4 471.3 784.9C472 786.5 472.8 788 473.5 789.5C474.3 791 475 792.5 475.8 794C476.5 795.5 477.3 797 478 798.5C478.8 800 479.5 801.5 480.3 803C481 804.5 481.7 806 482.5 807.5C483.2 809 484 810.5 484.7 812C485.4 813.5 486.2 814.9 486.9 816.4C487.6 817.9 488.4 819.4 489.1 820.9C489.9 822.4 490.6 823.9 491.3 825.3C492.1 826.8 492.8 828.3 493.5 829.8C494.3 831.3 495 832.8 495.8 834.2C496.5 835.7 497.2 837.2 498 838.7C498.7 840.2 499.5 841.6 500.2 843.1C501 844.6 501.7 846.1 502.5 847.5C503.2 849 504 850.5 504.8 852C505.5 853.4 506.3 854.9 507 856.4C507.8 857.9 508.6 859.3 509.4 860.8C510.1 862.3 510.9 863.8 511.7 865.2C512.5 866.7 513.3 868.2 514.1 869.7C514.8 871.1 515.6 872.6 516.4 874.1C517.2 875.6 518 877 518.9 878.5C519.7 880 520.5 881.4 521.3 882.9C522.1 884.4 523 885.8 523.8 887.3C524.6 888.8 525.5 890.2 526.3 891.7C527.2 893.2 528 894.6 528.9 896.1C529.8 897.5 530.6 899 531.5 900.4C532.4 901.9 533.7 904.1 534.2 904.8M470.5 663.6C470.5 664.5 470.5 667.1 470.4 668.8C470.4 670.5 470.4 672.2 470.3 673.9C470.2 675.6 470.2 677.3 470.1 679C470 680.8 469.9 682.5 469.8 684.2C469.7 685.9 469.6 687.5 469.5 689.2C469.4 690.9 469.3 692.6 469.2 694.3C469.1 696 469 697.7 468.8 699.3C468.7 701 468.6 702.7 468.5 704.3C468.4 706 468.3 707.7 468.2 709.3C468.1 711 468 712.7 467.9 714.3C467.9 716 467.8 717.6 467.7 719.3C467.7 720.9 467.6 722.5 467.6 724.2C467.6 725.8 467.6 727.4 467.6 729.1C467.7 730.7 467.7 732.3 467.9 733.9C468 735.6 468.2 737.2 468.4 738.8C468.7 740.4 469 742 469.4 743.6C469.8 745.2 470.3 746.8 470.9 748.4C471.4 750 472 751.6 472.6 753.2C473.3 754.8 474 756.4 474.6 758C475.3 759.6 476 761.1 476.7 762.7C477.3 764.3 478 765.9 478.7 767.4C479.3 769 479.9 770.5 480.6 772.1C481.2 773.7 481.8 775.2 482.5 776.8C483.1 778.3 483.8 779.9 484.5 781.4C485.1 782.9 485.8 784.5 486.6 786C487.3 787.6 488 789.1 488.8 790.6C489.5 792.1 490.3 793.7 491.1 795.2C491.9 796.7 492.7 798.2 493.5 799.7C494.3 801.2 495.1 802.8 495.8 804.3C496.6 805.8 497.4 807.3 498.1 808.8C498.9 810.3 499.6 811.8 500.3 813.3C501.1 814.7 501.7 816.2 502.5 817.7C503.2 819.2 503.9 820.7 504.6 822.2C505.3 823.7 506 825.1 506.7 826.6C507.5 828.1 508.2 829.6 509 831C509.8 832.5 510.6 834 511.4 835.4C512.1 836.9 513 838.4 513.8 839.8C514.6 841.3 515.4 842.8 516.3 844.2C517.1 845.7 517.9 847.1 518.8 848.6C519.7 850 520.5 851.5 521.4 852.9C522.3 854.4 523.1 855.9 524 857.3C524.9 858.7 525.8 860.2 526.7 861.6C527.6 863.1 528.5 864.5 529.4 866C530.3 867.4 531.2 868.9 532.1 870.3C533 871.7 533.9 873.2 534.8 874.6C535.7 876.1 536.6 877.5 537.4 878.9C538.3 880.4 539.2 881.8 540.1 883.3C541 884.7 541.9 886.1 542.8 887.6C543.7 889 544.5 890.4 545.4 891.9C546.3 893.3 547.1 894.7 548 896.2C548.8 897.6 549.7 899.1 550.5 900.5C551.4 901.9 552.6 904.1 553 904.8M480.3 663.6C480.3 664.5 480.5 667 480.5 668.8C480.5 670.5 480.6 672.2 480.5 673.9C480.5 675.6 480.5 677.3 480.5 679C480.4 680.8 480.3 682.5 480.3 684.2C480.2 685.9 480.1 687.6 480 689.3C479.9 691 479.8 692.6 479.7 694.3C479.6 696 479.5 697.7 479.4 699.4C479.2 701.1 479.1 702.8 479 704.4C478.9 706.1 478.8 707.8 478.7 709.4C478.6 711.1 478.5 712.8 478.4 714.4C478.3 716.1 478.3 717.8 478.2 719.4C478.2 721.1 478.1 722.7 478.1 724.4C478.1 726 478.1 727.7 478.2 729.3C478.2 730.9 478.3 732.6 478.4 734.2C478.6 735.8 478.7 737.5 478.9 739.1C479.2 740.7 479.4 742.3 479.7 743.9C480.1 745.5 480.4 747.2 480.9 748.8C481.3 750.4 481.8 752 482.3 753.6C482.8 755.2 483.3 756.8 483.9 758.3C484.5 759.9 485.1 761.5 485.7 763.1C486.3 764.7 486.9 766.2 487.6 767.8C488.2 769.4 488.9 770.9 489.6 772.5C490.2 774.1 490.9 775.6 491.6 777.2C492.3 778.7 493.1 780.3 493.8 781.8C494.5 783.3 495.3 784.9 496.1 786.4C496.9 787.9 497.7 789.5 498.5 791C499.3 792.5 500.1 794 500.9 795.5C501.7 797 502.5 798.5 503.3 800C504.1 801.5 505 803 505.8 804.5C506.6 806 507.4 807.5 508.2 809C509 810.5 509.7 812 510.5 813.5C511.3 814.9 512 816.4 512.8 817.9C513.6 819.4 514.3 820.8 515.1 822.3C515.8 823.8 516.6 825.2 517.4 826.7C518.2 828.2 519 829.6 519.8 831.1C520.6 832.5 521.4 834 522.2 835.5C523 836.9 523.9 838.4 524.7 839.8C525.5 841.3 526.4 842.7 527.2 844.2C528.1 845.6 528.9 847 529.8 848.5C530.6 849.9 531.5 851.4 532.4 852.8C533.2 854.3 534.1 855.7 535 857.1C535.8 858.6 536.7 860 537.6 861.5C538.5 862.9 539.3 864.3 540.2 865.8C541.1 867.2 542 868.7 542.8 870.1C543.7 871.5 544.6 873 545.5 874.4C546.4 875.9 547.2 877.3 548.1 878.7C549 880.2 549.9 881.6 550.7 883.1C551.6 884.5 552.5 885.9 553.3 887.4C554.2 888.8 555.1 890.3 556 891.7C556.8 893.2 557.7 894.6 558.6 896.1C559.4 897.5 560.3 899 561.1 900.4C562 901.9 563.3 904.1 563.7 904.8M489.5 663.6C489.6 664.4 489.8 666.9 489.9 668.6C490 670.3 490.1 672 490.1 673.6C490.2 675.3 490.1 677 490.1 678.7C490.1 680.4 490 682 489.9 683.7C489.8 685.4 489.7 687.1 489.6 688.8C489.4 690.4 489.3 692.1 489.2 693.8C489 695.5 488.8 697.2 488.7 698.8C488.5 700.5 488.3 702.2 488.2 703.9C488 705.5 487.9 707.2 487.7 708.9C487.6 710.5 487.4 712.2 487.3 713.9C487.2 715.5 487.1 717.2 487 718.8C486.9 720.5 486.9 722.2 486.8 723.8C486.8 725.5 486.8 727.1 486.9 728.7C486.9 730.4 487 732 487.1 733.7C487.2 735.3 487.4 736.9 487.6 738.5C487.8 740.2 488.1 741.8 488.4 743.4C488.7 745 489.1 746.6 489.5 748.2C489.9 749.8 490.4 751.4 490.9 753C491.4 754.5 491.9 756.1 492.5 757.7C493.1 759.3 493.6 760.8 494.2 762.4C494.8 763.9 495.4 765.5 496.1 767.1C496.7 768.6 497.3 770.1 498 771.7C498.6 773.2 499.3 774.8 500 776.3C500.7 777.8 501.4 779.3 502.1 780.9C502.8 782.4 503.6 783.9 504.4 785.4C505.2 786.9 506 788.4 506.8 789.9C507.6 791.4 508.5 792.9 509.3 794.4C510.2 795.9 511 797.4 511.9 798.8C512.7 800.3 513.6 801.8 514.4 803.3C515.3 804.7 516.1 806.2 516.9 807.7C517.7 809.2 518.5 810.6 519.3 812.1C520 813.5 520.8 815 521.5 816.5C522.2 817.9 522.9 819.4 523.7 820.8C524.4 822.3 525.1 823.7 525.8 825.2C526.6 826.6 527.3 828.1 528.1 829.5C528.8 831 529.6 832.4 530.4 833.9C531.2 835.3 531.9 836.8 532.8 838.2C533.6 839.7 534.4 841.1 535.2 842.5C536 844 536.8 845.4 537.7 846.8C538.5 848.3 539.4 849.7 540.2 851.1C541.1 852.6 542 854 542.8 855.4C543.7 856.8 544.6 858.2 545.5 859.7C546.4 861.1 547.3 862.5 548.2 863.9C549.1 865.3 550 866.7 550.9 868.1C551.9 869.5 552.8 870.9 553.7 872.3C554.7 873.7 555.6 875.1 556.6 876.5C557.5 877.8 558.5 879.2 559.5 880.6C560.4 882 561.4 883.3 562.4 884.7C563.4 886.1 564.4 887.4 565.4 888.8C566.3 890.1 567.3 891.5 568.3 892.8C569.4 894.2 570.4 895.5 571.4 896.9C572.4 898.2 573.4 899.5 574.4 900.8C575.4 902.2 577 904.1 577.5 904.8M504.1 663.6C504.2 664.4 504.4 667 504.5 668.7C504.7 670.4 504.7 672.1 504.8 673.8C504.8 675.5 504.8 677.2 504.8 678.9C504.8 680.6 504.7 682.3 504.7 684C504.6 685.6 504.5 687.3 504.4 689C504.4 690.7 504.2 692.4 504.1 694.1C504 695.8 503.9 697.5 503.8 699.1C503.6 700.8 503.5 702.5 503.4 704.2C503.3 705.9 503.1 707.5 503 709.2C502.9 710.9 502.8 712.6 502.8 714.2C502.7 715.9 502.6 717.6 502.6 719.2C502.5 720.9 502.5 722.5 502.5 724.2C502.5 725.8 502.6 727.5 502.7 729.1C502.7 730.8 502.8 732.4 503 734.1C503.1 735.7 503.3 737.3 503.6 738.9C503.8 740.6 504.1 742.2 504.4 743.8C504.8 745.4 505.2 747 505.6 748.6C506 750.3 506.5 751.9 507 753.5C507.5 755 508.1 756.6 508.6 758.2C509.2 759.8 509.8 761.4 510.4 763C511 764.5 511.6 766.1 512.2 767.6C512.8 769.2 513.5 770.8 514.2 772.3C514.8 773.8 515.5 775.4 516.2 776.9C517 778.4 517.7 780 518.5 781.5C519.2 783 520.1 784.5 520.9 786C521.7 787.5 522.6 789 523.5 790.5C524.4 792 525.3 793.5 526.2 794.9C527.1 796.4 528 797.9 528.9 799.3C529.8 800.8 530.8 802.2 531.7 803.7C532.6 805.1 533.4 806.6 534.3 808C535.1 809.4 536 810.9 536.8 812.3C537.6 813.7 538.3 815.2 539.1 816.6C539.9 818 540.6 819.4 541.4 820.8C542.2 822.2 542.9 823.6 543.7 825C544.5 826.5 545.4 827.9 546.2 829.3C547 830.7 547.9 832.1 548.8 833.4C549.7 834.8 550.6 836.2 551.5 837.6C552.4 839 553.3 840.4 554.3 841.8C555.2 843.2 556.2 844.6 557.1 846C558.1 847.3 559.1 848.7 560.1 850.1C561.1 851.5 562.1 852.9 563.1 854.3C564 855.6 565.1 857 566.1 858.4C567.1 859.8 568.1 861.2 569.1 862.6C570.1 864 571.1 865.3 572.1 866.7C573.1 868.1 574.1 869.5 575.1 870.9C576.1 872.3 577.1 873.7 578.1 875.1C579.1 876.5 580.1 877.9 581 879.3C582 880.7 583 882.1 583.9 883.5C584.8 884.9 585.8 886.3 586.7 887.7C587.6 889.1 588.5 890.5 589.4 891.9C590.3 893.3 591.1 894.8 592 896.2C592.8 897.6 593.7 899 594.5 900.5C595.3 901.9 596.4 904.1 596.8 904.8M513.3 663.6C513.2 664.4 513 667 512.8 668.6C512.7 670.3 512.6 672 512.4 673.7C512.3 675.4 512.2 677.1 512.1 678.8C512.1 680.5 512 682.2 511.9 683.8C511.9 685.5 511.8 687.2 511.8 688.9C511.7 690.6 511.7 692.3 511.6 694C511.6 695.7 511.6 697.4 511.6 699.1C511.6 700.7 511.6 702.4 511.5 704.1C511.5 705.8 511.5 707.5 511.5 709.2C511.5 710.8 511.5 712.5 511.5 714.2C511.5 715.9 511.5 717.5 511.5 719.2C511.5 720.9 511.5 722.6 511.5 724.2C511.5 725.9 511.4 727.5 511.5 729.2C511.5 730.9 511.6 732.5 511.6 734.2C511.7 735.8 511.9 737.4 512.1 739.1C512.2 740.7 512.5 742.3 512.8 744C513.1 745.6 513.5 747.2 513.9 748.8C514.3 750.4 514.8 752 515.4 753.6C515.9 755.2 516.5 756.8 517.1 758.4C517.7 760 518.3 761.6 519 763.2C519.7 764.7 520.3 766.3 521 767.9C521.8 769.4 522.5 771 523.2 772.5C524 774 524.7 775.6 525.5 777.1C526.3 778.6 527.1 780.1 527.9 781.6C528.8 783.1 529.6 784.6 530.5 786.1C531.4 787.6 532.3 789 533.2 790.5C534.1 792 535 793.4 535.9 794.9C536.8 796.3 537.7 797.8 538.7 799.2C539.6 800.6 540.5 802 541.4 803.5C542.3 804.9 543.1 806.3 544 807.7C544.8 809.1 545.6 810.5 546.4 811.9C547.2 813.3 548 814.7 548.8 816.1C549.5 817.5 550.3 818.9 551.1 820.3C551.8 821.7 552.6 823.1 553.4 824.5C554.3 825.9 555.1 827.3 556 828.7C556.8 830.1 557.7 831.5 558.6 832.9C559.6 834.3 560.5 835.7 561.4 837.1C562.4 838.5 563.3 839.9 564.3 841.2C565.3 842.6 566.3 844 567.3 845.4C568.3 846.8 569.3 848.2 570.3 849.6C571.3 851 572.3 852.4 573.3 853.8C574.3 855.2 575.3 856.6 576.3 858C577.3 859.4 578.3 860.8 579.2 862.2C580.2 863.6 581.2 865 582.1 866.5C583.1 867.9 584 869.3 585 870.7C585.9 872.1 586.8 873.5 587.7 874.9C588.7 876.3 589.6 877.7 590.5 879.2C591.4 880.6 592.3 882 593.2 883.4C594 884.8 594.9 886.2 595.8 887.7C596.7 889.1 597.6 890.5 598.5 891.9C599.3 893.4 600.2 894.8 601.1 896.2C602 897.6 602.9 899.1 603.8 900.5C604.6 901.9 606 904.1 606.4 904.8M524.6 663.6C524.6 664.4 524.5 666.9 524.4 668.6C524.3 670.2 524.3 671.9 524.2 673.6C524.1 675.3 524 677 523.9 678.7C523.8 680.3 523.7 682 523.6 683.8C523.5 685.5 523.4 687.2 523.3 688.9C523.2 690.6 523.1 692.3 523 694C522.9 695.7 522.8 697.4 522.7 699.2C522.6 700.9 522.5 702.6 522.5 704.3C522.4 706 522.3 707.7 522.2 709.4C522.1 711.2 522.1 712.9 522 714.6C521.9 716.3 521.9 718 521.8 719.7C521.8 721.4 521.7 723.1 521.7 724.7C521.7 726.4 521.7 728.1 521.7 729.8C521.8 731.5 521.9 733.1 522 734.8C522.2 736.4 522.4 738.1 522.6 739.7C522.9 741.4 523.3 743 523.7 744.6C524.2 746.2 524.7 747.8 525.3 749.4C525.8 751 526.5 752.6 527.2 754.2C527.8 755.7 528.6 757.3 529.3 758.8C530 760.4 530.7 761.9 531.4 763.5C532.1 765 532.8 766.5 533.5 768.1C534.2 769.6 534.8 771.1 535.5 772.6C536.2 774.1 536.9 775.6 537.6 777.1C538.3 778.6 539 780.1 539.8 781.5C540.5 783 541.3 784.5 542.2 785.9C543 787.4 543.9 788.9 544.8 790.3C545.7 791.8 546.6 793.2 547.5 794.7C548.5 796.1 549.5 797.6 550.4 799C551.4 800.5 552.4 801.9 553.4 803.3C554.4 804.8 555.3 806.2 556.3 807.6C557.3 809.1 558.3 810.5 559.2 811.9C560.2 813.4 561.1 814.8 562 816.2C563 817.6 563.9 819.1 564.8 820.5C565.7 821.9 566.6 823.3 567.5 824.7C568.5 826.1 569.4 827.6 570.3 829C571.2 830.4 572.1 831.8 573 833.2C573.9 834.6 574.8 836 575.7 837.4C576.6 838.8 577.5 840.2 578.5 841.6C579.4 843 580.3 844.4 581.3 845.8C582.2 847.2 583.2 848.6 584.2 850C585.1 851.4 586.1 852.8 587.1 854.2C588.1 855.5 589.1 856.9 590.1 858.3C591.1 859.7 592 861.1 593 862.4C594 863.8 595 865.2 596 866.5C597 867.9 598 869.3 598.9 870.6C599.9 872 600.9 873.3 601.9 874.7C602.9 876 603.9 877.3 604.9 878.7C605.9 880 607 881.3 608 882.6C609 883.9 610.1 885.2 611.2 886.5C612.2 887.8 613.3 889.1 614.5 890.4C615.6 891.6 616.7 892.9 617.9 894.1C619 895.3 620.2 896.6 621.5 897.8C622.7 899 623.9 900.2 625.2 901.3C626.5 902.5 628.5 904.2 629.2 904.8M541.6 663.6C541.6 664.4 541.4 666.9 541.4 668.5C541.3 670.2 541.2 671.8 541.2 673.5C541.1 675.2 541.1 676.8 541 678.5C541 680.2 541 681.9 541 683.6C540.9 685.2 540.9 686.9 540.9 688.6C540.9 690.3 540.8 692 540.8 693.7C540.8 695.4 540.8 697.1 540.8 698.8C540.8 700.4 540.7 702.1 540.7 703.8C540.7 705.5 540.7 707.2 540.7 708.9C540.6 710.6 540.6 712.3 540.6 713.9C540.5 715.6 540.5 717.3 540.4 719C540.4 720.6 540.3 722.3 540.3 723.9C540.2 725.6 540.2 727.3 540.2 728.9C540.2 730.5 540.2 732.2 540.3 733.8C540.4 735.4 540.5 737.1 540.8 738.7C541 740.3 541.4 741.9 541.8 743.5C542.2 745 542.8 746.6 543.4 748.2C544.1 749.7 544.8 751.3 545.6 752.8C546.3 754.4 547.1 755.9 548 757.5C548.8 759 549.6 760.5 550.4 762C551.2 763.5 552 765 552.8 766.5C553.6 768 554.3 769.5 555 771C555.7 772.4 556.4 773.9 557.1 775.4C557.8 776.8 558.5 778.3 559.3 779.7C560 781.2 560.7 782.6 561.5 784.1C562.3 785.5 563.2 786.9 564 788.4C564.9 789.8 565.7 791.2 566.6 792.6C567.5 794.1 568.5 795.5 569.4 796.9C570.3 798.3 571.3 799.7 572.2 801.1C573.2 802.5 574.2 803.9 575.1 805.3C576.1 806.7 577.1 808.1 578 809.5C579 810.9 580 812.3 580.9 813.7C581.9 815.1 582.8 816.5 583.7 817.9C584.7 819.3 585.6 820.7 586.5 822.1C587.5 823.5 588.4 824.9 589.3 826.2C590.3 827.6 591.2 829 592.1 830.4C593.1 831.7 594 833.1 595 834.5C595.9 835.8 596.9 837.2 597.8 838.5C598.8 839.9 599.7 841.2 600.7 842.6C601.7 843.9 602.7 845.2 603.7 846.5C604.6 847.8 605.7 849.2 606.7 850.5C607.7 851.8 608.7 853 609.8 854.3C610.8 855.6 611.9 856.9 613 858.1C614.1 859.4 615.2 860.6 616.3 861.9C617.4 863.1 618.6 864.3 619.7 865.6C620.9 866.8 622.1 868 623.3 869.2C624.5 870.4 625.7 871.6 626.9 872.7C628.1 873.9 629.4 875.1 630.6 876.3C631.9 877.4 633.1 878.6 634.4 879.7C635.6 880.9 636.9 882.1 638.1 883.2C639.3 884.4 640.6 885.6 641.8 886.7C643 887.9 644.3 889.1 645.5 890.2C646.7 891.4 647.9 892.6 649 893.8C650.2 895 651.3 896.2 652.5 897.4C653.6 898.6 654.7 899.8 655.8 901.1C656.8 902.3 658.4 904.2 658.9 904.8"/>
<path class="cvb" d="M496.8 663.6C496.8 664.5 496.9 667 496.9 668.7C496.9 670.4 496.9 672.2 496.9 673.9C496.9 675.6 496.8 677.3 496.8 679C496.8 680.7 496.7 682.4 496.7 684.1C496.6 685.8 496.6 687.5 496.5 689.2C496.5 690.8 496.4 692.5 496.3 694.2C496.3 695.9 496.2 697.6 496.1 699.3C496 700.9 496 702.6 495.9 704.3C495.8 706 495.8 707.6 495.7 709.3C495.7 711 495.6 712.6 495.6 714.3C495.5 715.9 495.5 717.6 495.4 719.2C495.4 720.9 495.4 722.5 495.4 724.2C495.4 725.8 495.4 727.5 495.4 729.1C495.5 730.7 495.5 732.4 495.7 734C495.8 735.6 495.9 737.2 496.1 738.8C496.4 740.5 496.6 742.1 496.9 743.7C497.3 745.3 497.7 746.9 498.1 748.5C498.5 750.1 499 751.7 499.6 753.3C500.1 754.9 500.7 756.5 501.2 758.1C501.8 759.6 502.5 761.2 503.1 762.8C503.7 764.4 504.3 765.9 505 767.5C505.6 769 506.3 770.6 506.9 772.2C507.6 773.7 508.3 775.3 509 776.8C509.7 778.3 510.4 779.9 511.2 781.4C511.9 782.9 512.7 784.5 513.5 786C514.2 787.5 515.1 789 515.9 790.5C516.7 792 517.5 793.5 518.3 795C519.2 796.5 520 798 520.8 799.5C521.6 801 522.5 802.5 523.3 803.9C524.1 805.4 524.9 806.9 525.7 808.4C526.5 809.8 527.2 811.3 528 812.8C528.7 814.2 529.4 815.7 530.2 817.1C530.9 818.6 531.6 820 532.3 821.5C533.1 822.9 533.8 824.3 534.6 825.8C535.4 827.2 536.2 828.6 537.1 830.1C537.9 831.5 538.7 832.9 539.6 834.3C540.5 835.8 541.4 837.2 542.3 838.6C543.2 840 544.1 841.4 545 842.8C546 844.2 546.9 845.6 547.9 847C548.9 848.4 549.8 849.8 550.8 851.2C551.8 852.6 552.8 854 553.7 855.4C554.7 856.8 555.7 858.2 556.7 859.6C557.7 861 558.7 862.3 559.7 863.7C560.7 865.1 561.7 866.5 562.7 867.9C563.7 869.3 564.7 870.6 565.6 872C566.6 873.4 567.6 874.8 568.6 876.1C569.6 877.5 570.5 878.9 571.5 880.2C572.5 881.6 573.5 883 574.4 884.3C575.4 885.7 576.4 887.1 577.3 888.4C578.3 889.8 579.2 891.2 580.2 892.5C581.1 893.9 582.1 895.3 583 896.6C584 898 584.9 899.4 585.9 900.7C586.8 902.1 588.2 904.1 588.7 904.8"/>
<rect class="fr" x="404.2" y="654" width="274.2" height="260.8"/>
<path class="tk" d="M414.2 914.8v6M446 914.8v6M477.8 914.8v6M509.6 914.8v6M541.4 914.8v6M573.2 914.8v6M605 914.8v6M636.8 914.8v6M668.6 914.8v6M404.2 904.8h-5.8M404.2 864.6h-5.8M404.2 824.4h-5.8M404.2 784.2h-5.8M404.2 744h-5.8M404.2 703.8h-5.8M404.2 663.6h-5.8"/>
<text class="tl" x="414.2" y="940.8" text-anchor="middle">10</text>
<text class="tl" x="446" y="940.8" text-anchor="middle">11</text>
<text class="tl" x="477.8" y="940.8" text-anchor="middle">12</text>
<text class="tl" x="509.6" y="940.8" text-anchor="middle">13</text>
<text class="tl" x="541.4" y="940.8" text-anchor="middle">14</text>
<text class="tl" x="573.2" y="940.8" text-anchor="middle">15</text>
<text class="tl" x="605" y="940.8" text-anchor="middle">16</text>
<text class="tl" x="636.8" y="940.8" text-anchor="middle">17</text>
<text class="tl" x="668.6" y="940.8" text-anchor="middle">18</text>
<text class="tl" x="391.6" y="911.8" text-anchor="end">-3</text>
<text class="tl" x="391.6" y="871.6" text-anchor="end">-2</text>
<text class="tl" x="391.6" y="831.4" text-anchor="end">-1</text>
<text class="tl" x="391.6" y="791.2" text-anchor="end">0</text>
<text class="tl" x="391.6" y="751" text-anchor="end">1</text>
<text class="tl" x="391.6" y="710.8" text-anchor="end">2</text>
<text class="tl" x="391.6" y="670.6" text-anchor="end">3</text>
<text class="tt" x="541.4" y="966.3" text-anchor="middle">Age</text>
<text class="tt" x="0" y="0" text-anchor="middle" transform="translate(365.9 784.2) rotate(-90)">BMI SDS</text>
<text class="pl" x="352.3" y="670.1">F</text>
<text class="cl" x="535.2" y="910" text-anchor="middle">10</text>
<text class="cl" x="566" y="909.8" text-anchor="middle">30</text>
<text class="cl" x="588.8" y="911.1" text-anchor="middle">50</text>
<text class="cl" x="608.7" y="907.5" text-anchor="middle">70</text>
<text class="cl" x="656" y="908.7" text-anchor="middle">90</text>
</svg></body></html>
